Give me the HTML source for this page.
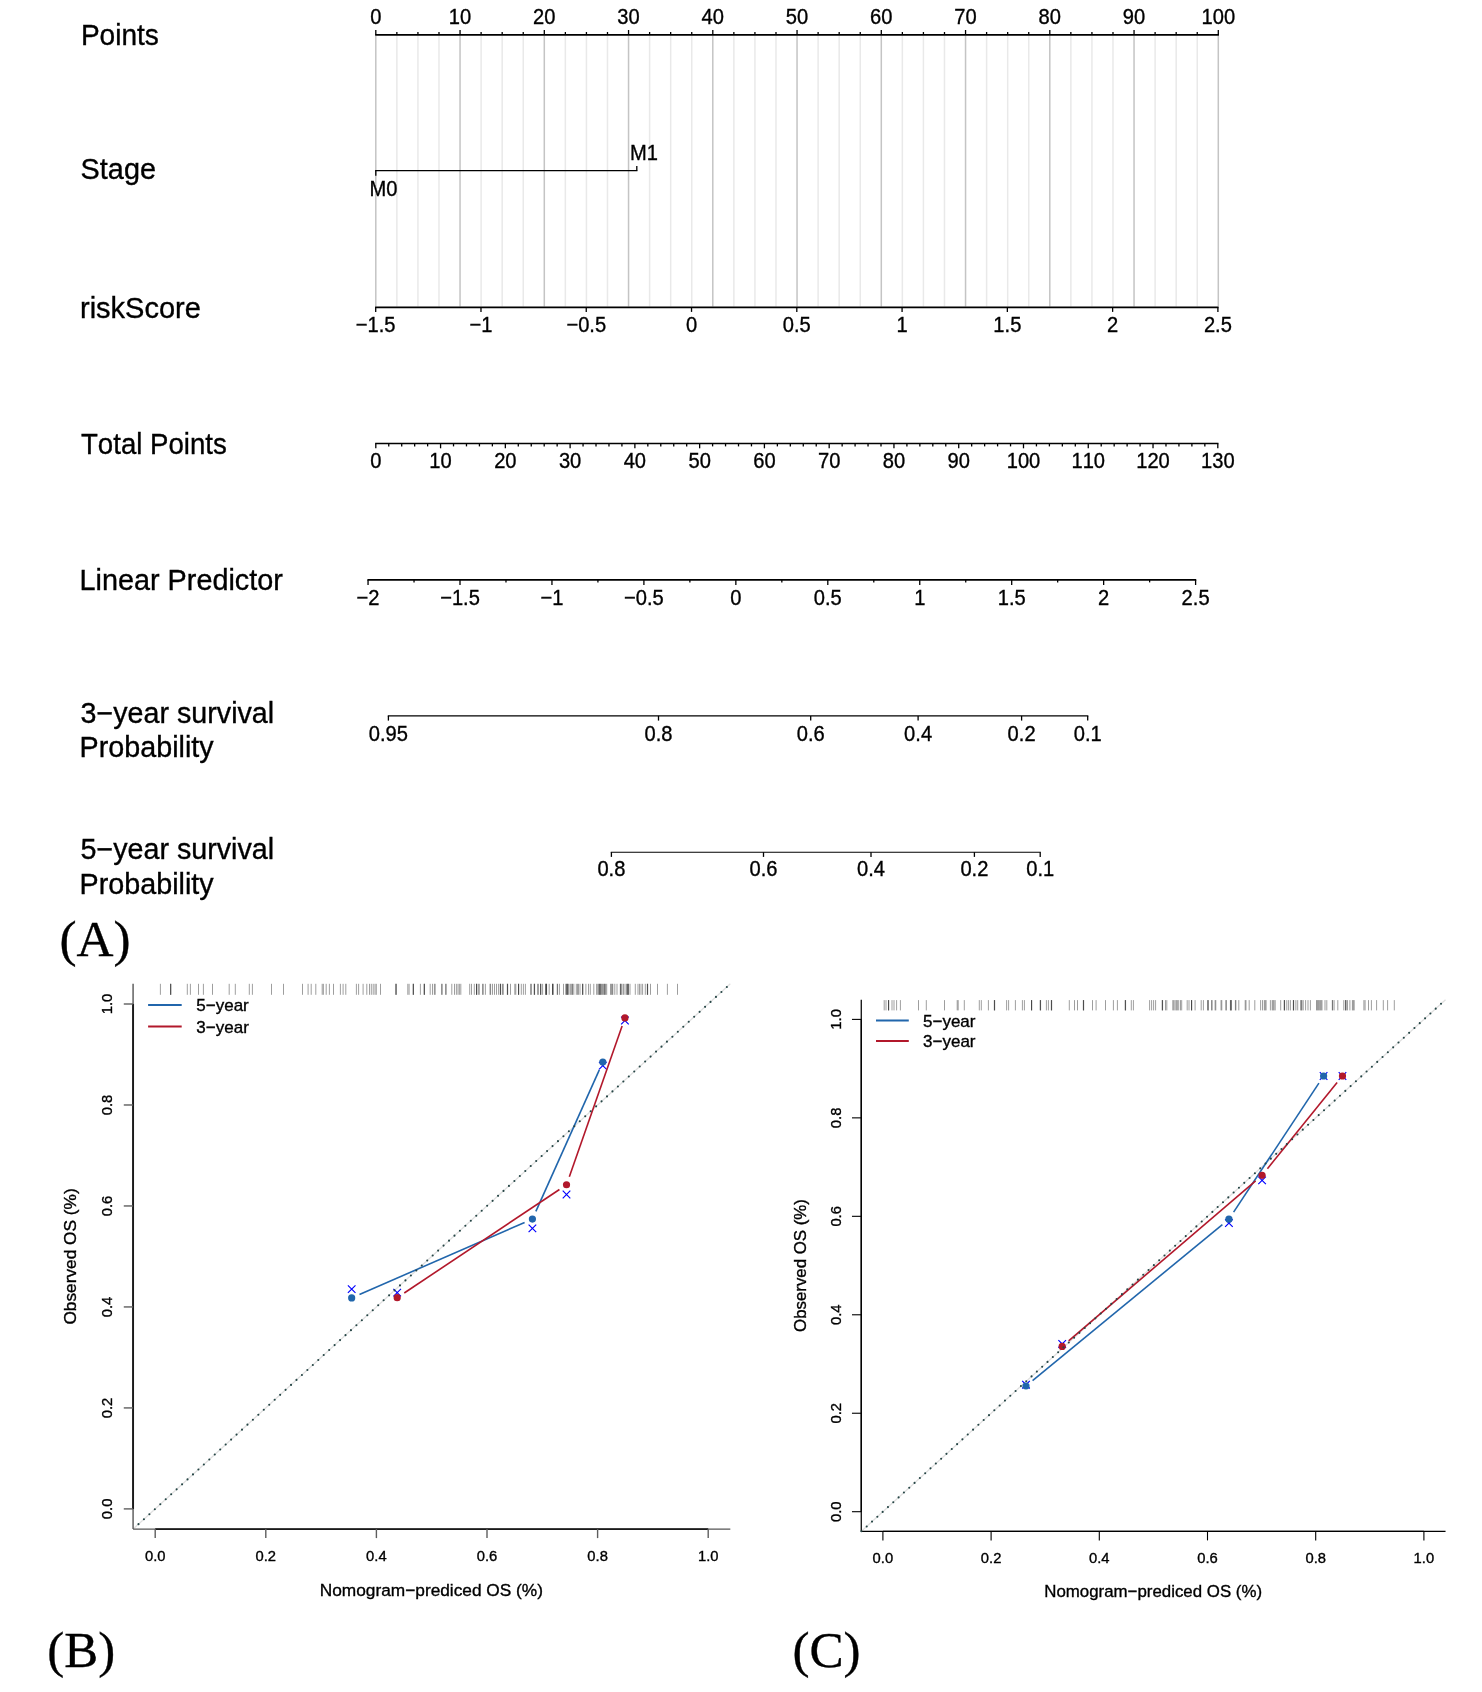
<!DOCTYPE html>
<html><head><meta charset="utf-8"><title>Nomogram and calibration curves</title>
<style>
html,body{margin:0;padding:0;background:#fff;}
svg{display:block;will-change:transform;}
text{font-kerning:none;white-space:pre;stroke:#000;stroke-width:0.35px;}
</style></head><body>
<svg width="1482" height="1692" viewBox="0 0 1482 1692">
<rect width="1482" height="1692" fill="#fff"/>
<line x1="375.8" y1="35.6" x2="375.8" y2="306.6" stroke="#c4c4c4" stroke-width="1.5"/>
<line x1="396.86" y1="35.6" x2="396.86" y2="306.6" stroke="#e9e9e9" stroke-width="1.5"/>
<line x1="417.93" y1="35.6" x2="417.93" y2="306.6" stroke="#e9e9e9" stroke-width="1.5"/>
<line x1="438.99" y1="35.6" x2="438.99" y2="306.6" stroke="#e9e9e9" stroke-width="1.5"/>
<line x1="460.05" y1="35.6" x2="460.05" y2="306.6" stroke="#c4c4c4" stroke-width="1.5"/>
<line x1="481.11" y1="35.6" x2="481.11" y2="306.6" stroke="#e9e9e9" stroke-width="1.5"/>
<line x1="502.18" y1="35.6" x2="502.18" y2="306.6" stroke="#e9e9e9" stroke-width="1.5"/>
<line x1="523.24" y1="35.6" x2="523.24" y2="306.6" stroke="#e9e9e9" stroke-width="1.5"/>
<line x1="544.3" y1="35.6" x2="544.3" y2="306.6" stroke="#c4c4c4" stroke-width="1.5"/>
<line x1="565.36" y1="35.6" x2="565.36" y2="306.6" stroke="#e9e9e9" stroke-width="1.5"/>
<line x1="586.43" y1="35.6" x2="586.43" y2="306.6" stroke="#e9e9e9" stroke-width="1.5"/>
<line x1="607.49" y1="35.6" x2="607.49" y2="306.6" stroke="#e9e9e9" stroke-width="1.5"/>
<line x1="628.55" y1="35.6" x2="628.55" y2="306.6" stroke="#c4c4c4" stroke-width="1.5"/>
<line x1="649.61" y1="35.6" x2="649.61" y2="306.6" stroke="#e9e9e9" stroke-width="1.5"/>
<line x1="670.67" y1="35.6" x2="670.67" y2="306.6" stroke="#e9e9e9" stroke-width="1.5"/>
<line x1="691.74" y1="35.6" x2="691.74" y2="306.6" stroke="#e9e9e9" stroke-width="1.5"/>
<line x1="712.8" y1="35.6" x2="712.8" y2="306.6" stroke="#c4c4c4" stroke-width="1.5"/>
<line x1="733.86" y1="35.6" x2="733.86" y2="306.6" stroke="#e9e9e9" stroke-width="1.5"/>
<line x1="754.93" y1="35.6" x2="754.93" y2="306.6" stroke="#e9e9e9" stroke-width="1.5"/>
<line x1="775.99" y1="35.6" x2="775.99" y2="306.6" stroke="#e9e9e9" stroke-width="1.5"/>
<line x1="797.05" y1="35.6" x2="797.05" y2="306.6" stroke="#c4c4c4" stroke-width="1.5"/>
<line x1="818.11" y1="35.6" x2="818.11" y2="306.6" stroke="#e9e9e9" stroke-width="1.5"/>
<line x1="839.18" y1="35.6" x2="839.18" y2="306.6" stroke="#e9e9e9" stroke-width="1.5"/>
<line x1="860.24" y1="35.6" x2="860.24" y2="306.6" stroke="#e9e9e9" stroke-width="1.5"/>
<line x1="881.3" y1="35.6" x2="881.3" y2="306.6" stroke="#c4c4c4" stroke-width="1.5"/>
<line x1="902.36" y1="35.6" x2="902.36" y2="306.6" stroke="#e9e9e9" stroke-width="1.5"/>
<line x1="923.42" y1="35.6" x2="923.42" y2="306.6" stroke="#e9e9e9" stroke-width="1.5"/>
<line x1="944.49" y1="35.6" x2="944.49" y2="306.6" stroke="#e9e9e9" stroke-width="1.5"/>
<line x1="965.55" y1="35.6" x2="965.55" y2="306.6" stroke="#c4c4c4" stroke-width="1.5"/>
<line x1="986.61" y1="35.6" x2="986.61" y2="306.6" stroke="#e9e9e9" stroke-width="1.5"/>
<line x1="1007.67" y1="35.6" x2="1007.67" y2="306.6" stroke="#e9e9e9" stroke-width="1.5"/>
<line x1="1028.74" y1="35.6" x2="1028.74" y2="306.6" stroke="#e9e9e9" stroke-width="1.5"/>
<line x1="1049.8" y1="35.6" x2="1049.8" y2="306.6" stroke="#c4c4c4" stroke-width="1.5"/>
<line x1="1070.86" y1="35.6" x2="1070.86" y2="306.6" stroke="#e9e9e9" stroke-width="1.5"/>
<line x1="1091.93" y1="35.6" x2="1091.93" y2="306.6" stroke="#e9e9e9" stroke-width="1.5"/>
<line x1="1112.99" y1="35.6" x2="1112.99" y2="306.6" stroke="#e9e9e9" stroke-width="1.5"/>
<line x1="1134.05" y1="35.6" x2="1134.05" y2="306.6" stroke="#c4c4c4" stroke-width="1.5"/>
<line x1="1155.11" y1="35.6" x2="1155.11" y2="306.6" stroke="#e9e9e9" stroke-width="1.5"/>
<line x1="1176.18" y1="35.6" x2="1176.18" y2="306.6" stroke="#e9e9e9" stroke-width="1.5"/>
<line x1="1197.24" y1="35.6" x2="1197.24" y2="306.6" stroke="#e9e9e9" stroke-width="1.5"/>
<line x1="1218.3" y1="35.6" x2="1218.3" y2="306.6" stroke="#c4c4c4" stroke-width="1.5"/>
<line x1="375.15" y1="34.8" x2="1218.95" y2="34.8" stroke="#000" stroke-width="1.7"/>
<line x1="375.8" y1="34.8" x2="375.8" y2="30" stroke="#000" stroke-width="1.3"/>
<line x1="396.86" y1="34.8" x2="396.86" y2="32" stroke="#000" stroke-width="1.3"/>
<line x1="417.93" y1="34.8" x2="417.93" y2="32" stroke="#000" stroke-width="1.3"/>
<line x1="438.99" y1="34.8" x2="438.99" y2="32" stroke="#000" stroke-width="1.3"/>
<line x1="460.05" y1="34.8" x2="460.05" y2="30" stroke="#000" stroke-width="1.3"/>
<line x1="481.11" y1="34.8" x2="481.11" y2="32" stroke="#000" stroke-width="1.3"/>
<line x1="502.18" y1="34.8" x2="502.18" y2="32" stroke="#000" stroke-width="1.3"/>
<line x1="523.24" y1="34.8" x2="523.24" y2="32" stroke="#000" stroke-width="1.3"/>
<line x1="544.3" y1="34.8" x2="544.3" y2="30" stroke="#000" stroke-width="1.3"/>
<line x1="565.36" y1="34.8" x2="565.36" y2="32" stroke="#000" stroke-width="1.3"/>
<line x1="586.43" y1="34.8" x2="586.43" y2="32" stroke="#000" stroke-width="1.3"/>
<line x1="607.49" y1="34.8" x2="607.49" y2="32" stroke="#000" stroke-width="1.3"/>
<line x1="628.55" y1="34.8" x2="628.55" y2="30" stroke="#000" stroke-width="1.3"/>
<line x1="649.61" y1="34.8" x2="649.61" y2="32" stroke="#000" stroke-width="1.3"/>
<line x1="670.67" y1="34.8" x2="670.67" y2="32" stroke="#000" stroke-width="1.3"/>
<line x1="691.74" y1="34.8" x2="691.74" y2="32" stroke="#000" stroke-width="1.3"/>
<line x1="712.8" y1="34.8" x2="712.8" y2="30" stroke="#000" stroke-width="1.3"/>
<line x1="733.86" y1="34.8" x2="733.86" y2="32" stroke="#000" stroke-width="1.3"/>
<line x1="754.93" y1="34.8" x2="754.93" y2="32" stroke="#000" stroke-width="1.3"/>
<line x1="775.99" y1="34.8" x2="775.99" y2="32" stroke="#000" stroke-width="1.3"/>
<line x1="797.05" y1="34.8" x2="797.05" y2="30" stroke="#000" stroke-width="1.3"/>
<line x1="818.11" y1="34.8" x2="818.11" y2="32" stroke="#000" stroke-width="1.3"/>
<line x1="839.18" y1="34.8" x2="839.18" y2="32" stroke="#000" stroke-width="1.3"/>
<line x1="860.24" y1="34.8" x2="860.24" y2="32" stroke="#000" stroke-width="1.3"/>
<line x1="881.3" y1="34.8" x2="881.3" y2="30" stroke="#000" stroke-width="1.3"/>
<line x1="902.36" y1="34.8" x2="902.36" y2="32" stroke="#000" stroke-width="1.3"/>
<line x1="923.42" y1="34.8" x2="923.42" y2="32" stroke="#000" stroke-width="1.3"/>
<line x1="944.49" y1="34.8" x2="944.49" y2="32" stroke="#000" stroke-width="1.3"/>
<line x1="965.55" y1="34.8" x2="965.55" y2="30" stroke="#000" stroke-width="1.3"/>
<line x1="986.61" y1="34.8" x2="986.61" y2="32" stroke="#000" stroke-width="1.3"/>
<line x1="1007.67" y1="34.8" x2="1007.67" y2="32" stroke="#000" stroke-width="1.3"/>
<line x1="1028.74" y1="34.8" x2="1028.74" y2="32" stroke="#000" stroke-width="1.3"/>
<line x1="1049.8" y1="34.8" x2="1049.8" y2="30" stroke="#000" stroke-width="1.3"/>
<line x1="1070.86" y1="34.8" x2="1070.86" y2="32" stroke="#000" stroke-width="1.3"/>
<line x1="1091.93" y1="34.8" x2="1091.93" y2="32" stroke="#000" stroke-width="1.3"/>
<line x1="1112.99" y1="34.8" x2="1112.99" y2="32" stroke="#000" stroke-width="1.3"/>
<line x1="1134.05" y1="34.8" x2="1134.05" y2="30" stroke="#000" stroke-width="1.3"/>
<line x1="1155.11" y1="34.8" x2="1155.11" y2="32" stroke="#000" stroke-width="1.3"/>
<line x1="1176.18" y1="34.8" x2="1176.18" y2="32" stroke="#000" stroke-width="1.3"/>
<line x1="1197.24" y1="34.8" x2="1197.24" y2="32" stroke="#000" stroke-width="1.3"/>
<line x1="1218.3" y1="34.8" x2="1218.3" y2="30" stroke="#000" stroke-width="1.3"/>
<text transform="translate(370.2,23.7) scale(0.9450,1)" font-size="21.3" font-family='"Liberation Sans", sans-serif'>0</text>
<text transform="translate(448.86,23.7) scale(0.9450,1)" font-size="21.3" font-family='"Liberation Sans", sans-serif'>10</text>
<text transform="translate(533.11,23.7) scale(0.9450,1)" font-size="21.3" font-family='"Liberation Sans", sans-serif'>20</text>
<text transform="translate(617.36,23.7) scale(0.9450,1)" font-size="21.3" font-family='"Liberation Sans", sans-serif'>30</text>
<text transform="translate(701.61,23.7) scale(0.9450,1)" font-size="21.3" font-family='"Liberation Sans", sans-serif'>40</text>
<text transform="translate(785.86,23.7) scale(0.9450,1)" font-size="21.3" font-family='"Liberation Sans", sans-serif'>50</text>
<text transform="translate(870.11,23.7) scale(0.9450,1)" font-size="21.3" font-family='"Liberation Sans", sans-serif'>60</text>
<text transform="translate(954.36,23.7) scale(0.9450,1)" font-size="21.3" font-family='"Liberation Sans", sans-serif'>70</text>
<text transform="translate(1038.61,23.7) scale(0.9450,1)" font-size="21.3" font-family='"Liberation Sans", sans-serif'>80</text>
<text transform="translate(1122.86,23.7) scale(0.9450,1)" font-size="21.3" font-family='"Liberation Sans", sans-serif'>90</text>
<text transform="translate(1201.51,23.7) scale(0.9450,1)" font-size="21.3" font-family='"Liberation Sans", sans-serif'>100</text>
<line x1="375.15" y1="170.6" x2="637.45" y2="170.6" stroke="#000" stroke-width="1.4"/>
<line x1="375.8" y1="170.6" x2="375.8" y2="175.8" stroke="#000" stroke-width="1.3"/>
<line x1="636.8" y1="170.6" x2="636.8" y2="166" stroke="#000" stroke-width="1.3"/>
<text transform="translate(369.55,195.7) scale(0.9450,1)" font-size="21.3" font-family='"Liberation Sans", sans-serif' fill="#000">M0</text>
<text transform="translate(629.95,160.2) scale(0.9450,1)" font-size="21.3" font-family='"Liberation Sans", sans-serif' fill="#000">M1</text>
<line x1="375.05" y1="307.3" x2="1218.55" y2="307.3" stroke="#000" stroke-width="1.7"/>
<line x1="375.7" y1="307.3" x2="375.7" y2="311.9" stroke="#000" stroke-width="1.3"/>
<text transform="translate(355.83,331.6) scale(0.9450,1)" font-size="21.3" font-family='"Liberation Sans", sans-serif'>−1.5</text>
<line x1="480.98" y1="307.3" x2="480.98" y2="311.9" stroke="#000" stroke-width="1.3"/>
<text transform="translate(469.5,331.6) scale(0.9450,1)" font-size="21.3" font-family='"Liberation Sans", sans-serif'>−1</text>
<line x1="586.25" y1="307.3" x2="586.25" y2="311.9" stroke="#000" stroke-width="1.3"/>
<text transform="translate(566.38,331.6) scale(0.9450,1)" font-size="21.3" font-family='"Liberation Sans", sans-serif'>−0.5</text>
<line x1="691.53" y1="307.3" x2="691.53" y2="311.9" stroke="#000" stroke-width="1.3"/>
<text transform="translate(685.93,331.6) scale(0.9450,1)" font-size="21.3" font-family='"Liberation Sans", sans-serif'>0</text>
<line x1="796.8" y1="307.3" x2="796.8" y2="311.9" stroke="#000" stroke-width="1.3"/>
<text transform="translate(782.81,331.6) scale(0.9450,1)" font-size="21.3" font-family='"Liberation Sans", sans-serif'>0.5</text>
<line x1="902.08" y1="307.3" x2="902.08" y2="311.9" stroke="#000" stroke-width="1.3"/>
<text transform="translate(896.48,331.6) scale(0.9450,1)" font-size="21.3" font-family='"Liberation Sans", sans-serif'>1</text>
<line x1="1007.35" y1="307.3" x2="1007.35" y2="311.9" stroke="#000" stroke-width="1.3"/>
<text transform="translate(993.36,331.6) scale(0.9450,1)" font-size="21.3" font-family='"Liberation Sans", sans-serif'>1.5</text>
<line x1="1112.62" y1="307.3" x2="1112.62" y2="311.9" stroke="#000" stroke-width="1.3"/>
<text transform="translate(1107.03,331.6) scale(0.9450,1)" font-size="21.3" font-family='"Liberation Sans", sans-serif'>2</text>
<line x1="1217.9" y1="307.3" x2="1217.9" y2="311.9" stroke="#000" stroke-width="1.3"/>
<text transform="translate(1203.91,331.6) scale(0.9450,1)" font-size="21.3" font-family='"Liberation Sans", sans-serif'>2.5</text>
<line x1="375.15" y1="443.5" x2="1218.45" y2="443.5" stroke="#000" stroke-width="1.7"/>
<line x1="375.8" y1="443.5" x2="375.8" y2="448.3" stroke="#000" stroke-width="1.3"/>
<line x1="388.75" y1="443.5" x2="388.75" y2="446.4" stroke="#000" stroke-width="1.3"/>
<line x1="401.71" y1="443.5" x2="401.71" y2="446.4" stroke="#000" stroke-width="1.3"/>
<line x1="414.66" y1="443.5" x2="414.66" y2="446.4" stroke="#000" stroke-width="1.3"/>
<line x1="427.62" y1="443.5" x2="427.62" y2="446.4" stroke="#000" stroke-width="1.3"/>
<line x1="440.57" y1="443.5" x2="440.57" y2="448.3" stroke="#000" stroke-width="1.3"/>
<line x1="453.52" y1="443.5" x2="453.52" y2="446.4" stroke="#000" stroke-width="1.3"/>
<line x1="466.48" y1="443.5" x2="466.48" y2="446.4" stroke="#000" stroke-width="1.3"/>
<line x1="479.43" y1="443.5" x2="479.43" y2="446.4" stroke="#000" stroke-width="1.3"/>
<line x1="492.38" y1="443.5" x2="492.38" y2="446.4" stroke="#000" stroke-width="1.3"/>
<line x1="505.34" y1="443.5" x2="505.34" y2="448.3" stroke="#000" stroke-width="1.3"/>
<line x1="518.29" y1="443.5" x2="518.29" y2="446.4" stroke="#000" stroke-width="1.3"/>
<line x1="531.25" y1="443.5" x2="531.25" y2="446.4" stroke="#000" stroke-width="1.3"/>
<line x1="544.2" y1="443.5" x2="544.2" y2="446.4" stroke="#000" stroke-width="1.3"/>
<line x1="557.15" y1="443.5" x2="557.15" y2="446.4" stroke="#000" stroke-width="1.3"/>
<line x1="570.11" y1="443.5" x2="570.11" y2="448.3" stroke="#000" stroke-width="1.3"/>
<line x1="583.06" y1="443.5" x2="583.06" y2="446.4" stroke="#000" stroke-width="1.3"/>
<line x1="596.01" y1="443.5" x2="596.01" y2="446.4" stroke="#000" stroke-width="1.3"/>
<line x1="608.97" y1="443.5" x2="608.97" y2="446.4" stroke="#000" stroke-width="1.3"/>
<line x1="621.92" y1="443.5" x2="621.92" y2="446.4" stroke="#000" stroke-width="1.3"/>
<line x1="634.88" y1="443.5" x2="634.88" y2="448.3" stroke="#000" stroke-width="1.3"/>
<line x1="647.83" y1="443.5" x2="647.83" y2="446.4" stroke="#000" stroke-width="1.3"/>
<line x1="660.78" y1="443.5" x2="660.78" y2="446.4" stroke="#000" stroke-width="1.3"/>
<line x1="673.74" y1="443.5" x2="673.74" y2="446.4" stroke="#000" stroke-width="1.3"/>
<line x1="686.69" y1="443.5" x2="686.69" y2="446.4" stroke="#000" stroke-width="1.3"/>
<line x1="699.64" y1="443.5" x2="699.64" y2="448.3" stroke="#000" stroke-width="1.3"/>
<line x1="712.6" y1="443.5" x2="712.6" y2="446.4" stroke="#000" stroke-width="1.3"/>
<line x1="725.55" y1="443.5" x2="725.55" y2="446.4" stroke="#000" stroke-width="1.3"/>
<line x1="738.51" y1="443.5" x2="738.51" y2="446.4" stroke="#000" stroke-width="1.3"/>
<line x1="751.46" y1="443.5" x2="751.46" y2="446.4" stroke="#000" stroke-width="1.3"/>
<line x1="764.41" y1="443.5" x2="764.41" y2="448.3" stroke="#000" stroke-width="1.3"/>
<line x1="777.37" y1="443.5" x2="777.37" y2="446.4" stroke="#000" stroke-width="1.3"/>
<line x1="790.32" y1="443.5" x2="790.32" y2="446.4" stroke="#000" stroke-width="1.3"/>
<line x1="803.28" y1="443.5" x2="803.28" y2="446.4" stroke="#000" stroke-width="1.3"/>
<line x1="816.23" y1="443.5" x2="816.23" y2="446.4" stroke="#000" stroke-width="1.3"/>
<line x1="829.18" y1="443.5" x2="829.18" y2="448.3" stroke="#000" stroke-width="1.3"/>
<line x1="842.14" y1="443.5" x2="842.14" y2="446.4" stroke="#000" stroke-width="1.3"/>
<line x1="855.09" y1="443.5" x2="855.09" y2="446.4" stroke="#000" stroke-width="1.3"/>
<line x1="868.04" y1="443.5" x2="868.04" y2="446.4" stroke="#000" stroke-width="1.3"/>
<line x1="881" y1="443.5" x2="881" y2="446.4" stroke="#000" stroke-width="1.3"/>
<line x1="893.95" y1="443.5" x2="893.95" y2="448.3" stroke="#000" stroke-width="1.3"/>
<line x1="906.91" y1="443.5" x2="906.91" y2="446.4" stroke="#000" stroke-width="1.3"/>
<line x1="919.86" y1="443.5" x2="919.86" y2="446.4" stroke="#000" stroke-width="1.3"/>
<line x1="932.81" y1="443.5" x2="932.81" y2="446.4" stroke="#000" stroke-width="1.3"/>
<line x1="945.77" y1="443.5" x2="945.77" y2="446.4" stroke="#000" stroke-width="1.3"/>
<line x1="958.72" y1="443.5" x2="958.72" y2="448.3" stroke="#000" stroke-width="1.3"/>
<line x1="971.67" y1="443.5" x2="971.67" y2="446.4" stroke="#000" stroke-width="1.3"/>
<line x1="984.63" y1="443.5" x2="984.63" y2="446.4" stroke="#000" stroke-width="1.3"/>
<line x1="997.58" y1="443.5" x2="997.58" y2="446.4" stroke="#000" stroke-width="1.3"/>
<line x1="1010.54" y1="443.5" x2="1010.54" y2="446.4" stroke="#000" stroke-width="1.3"/>
<line x1="1023.49" y1="443.5" x2="1023.49" y2="448.3" stroke="#000" stroke-width="1.3"/>
<line x1="1036.44" y1="443.5" x2="1036.44" y2="446.4" stroke="#000" stroke-width="1.3"/>
<line x1="1049.4" y1="443.5" x2="1049.4" y2="446.4" stroke="#000" stroke-width="1.3"/>
<line x1="1062.35" y1="443.5" x2="1062.35" y2="446.4" stroke="#000" stroke-width="1.3"/>
<line x1="1075.31" y1="443.5" x2="1075.31" y2="446.4" stroke="#000" stroke-width="1.3"/>
<line x1="1088.26" y1="443.5" x2="1088.26" y2="448.3" stroke="#000" stroke-width="1.3"/>
<line x1="1101.21" y1="443.5" x2="1101.21" y2="446.4" stroke="#000" stroke-width="1.3"/>
<line x1="1114.17" y1="443.5" x2="1114.17" y2="446.4" stroke="#000" stroke-width="1.3"/>
<line x1="1127.12" y1="443.5" x2="1127.12" y2="446.4" stroke="#000" stroke-width="1.3"/>
<line x1="1140.07" y1="443.5" x2="1140.07" y2="446.4" stroke="#000" stroke-width="1.3"/>
<line x1="1153.03" y1="443.5" x2="1153.03" y2="448.3" stroke="#000" stroke-width="1.3"/>
<line x1="1165.98" y1="443.5" x2="1165.98" y2="446.4" stroke="#000" stroke-width="1.3"/>
<line x1="1178.94" y1="443.5" x2="1178.94" y2="446.4" stroke="#000" stroke-width="1.3"/>
<line x1="1191.89" y1="443.5" x2="1191.89" y2="446.4" stroke="#000" stroke-width="1.3"/>
<line x1="1204.84" y1="443.5" x2="1204.84" y2="446.4" stroke="#000" stroke-width="1.3"/>
<line x1="1217.8" y1="443.5" x2="1217.8" y2="448.3" stroke="#000" stroke-width="1.3"/>
<text transform="translate(370.2,467.7) scale(0.9450,1)" font-size="21.3" font-family='"Liberation Sans", sans-serif'>0</text>
<text transform="translate(429.37,467.7) scale(0.9450,1)" font-size="21.3" font-family='"Liberation Sans", sans-serif'>10</text>
<text transform="translate(494.14,467.7) scale(0.9450,1)" font-size="21.3" font-family='"Liberation Sans", sans-serif'>20</text>
<text transform="translate(558.91,467.7) scale(0.9450,1)" font-size="21.3" font-family='"Liberation Sans", sans-serif'>30</text>
<text transform="translate(623.68,467.7) scale(0.9450,1)" font-size="21.3" font-family='"Liberation Sans", sans-serif'>40</text>
<text transform="translate(688.45,467.7) scale(0.9450,1)" font-size="21.3" font-family='"Liberation Sans", sans-serif'>50</text>
<text transform="translate(753.22,467.7) scale(0.9450,1)" font-size="21.3" font-family='"Liberation Sans", sans-serif'>60</text>
<text transform="translate(817.99,467.7) scale(0.9450,1)" font-size="21.3" font-family='"Liberation Sans", sans-serif'>70</text>
<text transform="translate(882.76,467.7) scale(0.9450,1)" font-size="21.3" font-family='"Liberation Sans", sans-serif'>80</text>
<text transform="translate(947.53,467.7) scale(0.9450,1)" font-size="21.3" font-family='"Liberation Sans", sans-serif'>90</text>
<text transform="translate(1006.7,467.7) scale(0.9450,1)" font-size="21.3" font-family='"Liberation Sans", sans-serif'>100</text>
<text transform="translate(1071.47,467.7) scale(0.9450,1)" font-size="21.3" font-family='"Liberation Sans", sans-serif'>110</text>
<text transform="translate(1136.24,467.7) scale(0.9450,1)" font-size="21.3" font-family='"Liberation Sans", sans-serif'>120</text>
<text transform="translate(1201.01,467.7) scale(0.9450,1)" font-size="21.3" font-family='"Liberation Sans", sans-serif'>130</text>
<line x1="367.4" y1="579.9" x2="1196.25" y2="579.9" stroke="#000" stroke-width="1.7"/>
<line x1="368.05" y1="579.9" x2="368.05" y2="585" stroke="#000" stroke-width="1.3"/>
<line x1="414.03" y1="579.9" x2="414.03" y2="582.4" stroke="#000" stroke-width="1.3"/>
<line x1="460" y1="579.9" x2="460" y2="585" stroke="#000" stroke-width="1.3"/>
<line x1="505.98" y1="579.9" x2="505.98" y2="582.4" stroke="#000" stroke-width="1.3"/>
<line x1="551.95" y1="579.9" x2="551.95" y2="585" stroke="#000" stroke-width="1.3"/>
<line x1="597.92" y1="579.9" x2="597.92" y2="582.4" stroke="#000" stroke-width="1.3"/>
<line x1="643.9" y1="579.9" x2="643.9" y2="585" stroke="#000" stroke-width="1.3"/>
<line x1="689.88" y1="579.9" x2="689.88" y2="582.4" stroke="#000" stroke-width="1.3"/>
<line x1="735.85" y1="579.9" x2="735.85" y2="585" stroke="#000" stroke-width="1.3"/>
<line x1="781.83" y1="579.9" x2="781.83" y2="582.4" stroke="#000" stroke-width="1.3"/>
<line x1="827.8" y1="579.9" x2="827.8" y2="585" stroke="#000" stroke-width="1.3"/>
<line x1="873.78" y1="579.9" x2="873.78" y2="582.4" stroke="#000" stroke-width="1.3"/>
<line x1="919.75" y1="579.9" x2="919.75" y2="585" stroke="#000" stroke-width="1.3"/>
<line x1="965.73" y1="579.9" x2="965.73" y2="582.4" stroke="#000" stroke-width="1.3"/>
<line x1="1011.7" y1="579.9" x2="1011.7" y2="585" stroke="#000" stroke-width="1.3"/>
<line x1="1057.67" y1="579.9" x2="1057.67" y2="582.4" stroke="#000" stroke-width="1.3"/>
<line x1="1103.65" y1="579.9" x2="1103.65" y2="585" stroke="#000" stroke-width="1.3"/>
<line x1="1149.62" y1="579.9" x2="1149.62" y2="582.4" stroke="#000" stroke-width="1.3"/>
<line x1="1195.6" y1="579.9" x2="1195.6" y2="585" stroke="#000" stroke-width="1.3"/>
<text transform="translate(356.58,604.5) scale(0.9450,1)" font-size="21.3" font-family='"Liberation Sans", sans-serif'>−2</text>
<text transform="translate(440.13,604.5) scale(0.9450,1)" font-size="21.3" font-family='"Liberation Sans", sans-serif'>−1.5</text>
<text transform="translate(540.48,604.5) scale(0.9450,1)" font-size="21.3" font-family='"Liberation Sans", sans-serif'>−1</text>
<text transform="translate(624.03,604.5) scale(0.9450,1)" font-size="21.3" font-family='"Liberation Sans", sans-serif'>−0.5</text>
<text transform="translate(730.25,604.5) scale(0.9450,1)" font-size="21.3" font-family='"Liberation Sans", sans-serif'>0</text>
<text transform="translate(813.81,604.5) scale(0.9450,1)" font-size="21.3" font-family='"Liberation Sans", sans-serif'>0.5</text>
<text transform="translate(914.15,604.5) scale(0.9450,1)" font-size="21.3" font-family='"Liberation Sans", sans-serif'>1</text>
<text transform="translate(997.71,604.5) scale(0.9450,1)" font-size="21.3" font-family='"Liberation Sans", sans-serif'>1.5</text>
<text transform="translate(1098.05,604.5) scale(0.9450,1)" font-size="21.3" font-family='"Liberation Sans", sans-serif'>2</text>
<text transform="translate(1181.61,604.5) scale(0.9450,1)" font-size="21.3" font-family='"Liberation Sans", sans-serif'>2.5</text>
<line x1="387.75" y1="715.9" x2="1088.35" y2="715.9" stroke="#000" stroke-width="1.1"/>
<line x1="388.4" y1="715.9" x2="388.4" y2="720.6" stroke="#000" stroke-width="1.3"/>
<text transform="translate(368.81,740.7) scale(0.9450,1)" font-size="21.3" font-family='"Liberation Sans", sans-serif'>0.95</text>
<line x1="658.5" y1="715.9" x2="658.5" y2="720.6" stroke="#000" stroke-width="1.3"/>
<text transform="translate(644.51,740.7) scale(0.9450,1)" font-size="21.3" font-family='"Liberation Sans", sans-serif'>0.8</text>
<line x1="810.7" y1="715.9" x2="810.7" y2="720.6" stroke="#000" stroke-width="1.3"/>
<text transform="translate(796.71,740.7) scale(0.9450,1)" font-size="21.3" font-family='"Liberation Sans", sans-serif'>0.6</text>
<line x1="918.1" y1="715.9" x2="918.1" y2="720.6" stroke="#000" stroke-width="1.3"/>
<text transform="translate(904.11,740.7) scale(0.9450,1)" font-size="21.3" font-family='"Liberation Sans", sans-serif'>0.4</text>
<line x1="1021.6" y1="715.9" x2="1021.6" y2="720.6" stroke="#000" stroke-width="1.3"/>
<text transform="translate(1007.61,740.7) scale(0.9450,1)" font-size="21.3" font-family='"Liberation Sans", sans-serif'>0.2</text>
<line x1="1087.7" y1="715.9" x2="1087.7" y2="720.6" stroke="#000" stroke-width="1.3"/>
<text transform="translate(1073.71,740.7) scale(0.9450,1)" font-size="21.3" font-family='"Liberation Sans", sans-serif'>0.1</text>
<line x1="610.75" y1="852.2" x2="1040.85" y2="852.2" stroke="#000" stroke-width="1.1"/>
<line x1="611.4" y1="852.2" x2="611.4" y2="856.9" stroke="#000" stroke-width="1.3"/>
<text transform="translate(597.41,876.1) scale(0.9450,1)" font-size="21.3" font-family='"Liberation Sans", sans-serif'>0.8</text>
<line x1="763.5" y1="852.2" x2="763.5" y2="856.9" stroke="#000" stroke-width="1.3"/>
<text transform="translate(749.51,876.1) scale(0.9450,1)" font-size="21.3" font-family='"Liberation Sans", sans-serif'>0.6</text>
<line x1="871" y1="852.2" x2="871" y2="856.9" stroke="#000" stroke-width="1.3"/>
<text transform="translate(857.01,876.1) scale(0.9450,1)" font-size="21.3" font-family='"Liberation Sans", sans-serif'>0.4</text>
<line x1="974.4" y1="852.2" x2="974.4" y2="856.9" stroke="#000" stroke-width="1.3"/>
<text transform="translate(960.41,876.1) scale(0.9450,1)" font-size="21.3" font-family='"Liberation Sans", sans-serif'>0.2</text>
<line x1="1040.2" y1="852.2" x2="1040.2" y2="856.9" stroke="#000" stroke-width="1.3"/>
<text transform="translate(1026.21,876.1) scale(0.9450,1)" font-size="21.3" font-family='"Liberation Sans", sans-serif'>0.1</text>
<text transform="translate(80.9,44.9) scale(0.9781,1)" font-size="28.7" font-family='"Liberation Sans", sans-serif' fill="#000">Points</text>
<text transform="translate(80.59,178.9) scale(1.0052,1)" font-size="28.7" font-family='"Liberation Sans", sans-serif' fill="#000">Stage</text>
<text transform="translate(79.97,318.1) scale(1.0109,1)" font-size="28.7" font-family='"Liberation Sans", sans-serif' fill="#000">riskScore</text>
<text transform="translate(80.98,453.9) scale(0.9629,1)" font-size="28.7" font-family='"Liberation Sans", sans-serif' fill="#000">Total Points</text>
<text transform="translate(79.54,589.9) scale(1.0039,1)" font-size="28.7" font-family='"Liberation Sans", sans-serif' fill="#000">Linear Predictor</text>
<text transform="translate(80.61,722.9) scale(0.9990,1)" font-size="28.7" font-family='"Liberation Sans", sans-serif' fill="#000">3−year survival</text>
<text transform="translate(79.54,757) scale(1.0008,1)" font-size="28.7" font-family='"Liberation Sans", sans-serif' fill="#000">Probability</text>
<text transform="translate(80.55,858.7) scale(0.9993,1)" font-size="28.7" font-family='"Liberation Sans", sans-serif' fill="#000">5−year survival</text>
<text transform="translate(79.54,893.8) scale(1.0008,1)" font-size="28.7" font-family='"Liberation Sans", sans-serif' fill="#000">Probability</text>
<text transform="translate(59.55,956.2) scale(1.0244,1)" font-size="50" font-family='"Liberation Serif", serif' fill="#000">(A)</text>
<text transform="translate(47.36,1666.8) scale(1.0184,1)" font-size="50" font-family='"Liberation Serif", serif' fill="#000">(B)</text>
<text transform="translate(792.45,1666.8) scale(1.0232,1)" font-size="50" font-family='"Liberation Serif", serif' fill="#000">(C)</text>
<line x1="170.6" y1="983.8" x2="170.6" y2="994.8" stroke="#000" stroke-width="1" stroke-opacity="0.38"/>
<line x1="395.9" y1="983.8" x2="395.9" y2="994.8" stroke="#000" stroke-width="1" stroke-opacity="0.38"/>
<line x1="413.3" y1="983.8" x2="413.3" y2="994.8" stroke="#000" stroke-width="1" stroke-opacity="0.38"/>
<line x1="424.2" y1="983.8" x2="424.2" y2="994.8" stroke="#000" stroke-width="1" stroke-opacity="0.38"/>
<line x1="476.5" y1="983.8" x2="476.5" y2="994.8" stroke="#000" stroke-width="1" stroke-opacity="0.38"/>
<line x1="500.4" y1="983.8" x2="500.4" y2="994.8" stroke="#000" stroke-width="1" stroke-opacity="0.38"/>
<line x1="507.4" y1="983.8" x2="507.4" y2="994.8" stroke="#000" stroke-width="1" stroke-opacity="0.38"/>
<line x1="518.5" y1="983.8" x2="518.5" y2="994.8" stroke="#000" stroke-width="1" stroke-opacity="0.38"/>
<line x1="534.3" y1="983.8" x2="534.3" y2="994.8" stroke="#000" stroke-width="1" stroke-opacity="0.38"/>
<line x1="540.6" y1="983.8" x2="540.6" y2="994.8" stroke="#000" stroke-width="1" stroke-opacity="0.38"/>
<line x1="546.1" y1="983.8" x2="546.1" y2="994.8" stroke="#000" stroke-width="1" stroke-opacity="0.38"/>
<line x1="546.3" y1="983.8" x2="546.3" y2="994.8" stroke="#000" stroke-width="1" stroke-opacity="0.38"/>
<line x1="552.7" y1="983.8" x2="552.7" y2="994.8" stroke="#000" stroke-width="1" stroke-opacity="0.38"/>
<line x1="566.8" y1="983.8" x2="566.8" y2="994.8" stroke="#000" stroke-width="1" stroke-opacity="0.38"/>
<line x1="567.6" y1="983.8" x2="567.6" y2="994.8" stroke="#000" stroke-width="1" stroke-opacity="0.38"/>
<line x1="572" y1="983.8" x2="572" y2="994.8" stroke="#000" stroke-width="1" stroke-opacity="0.38"/>
<line x1="582.6" y1="983.8" x2="582.6" y2="994.8" stroke="#000" stroke-width="1" stroke-opacity="0.38"/>
<line x1="599.6" y1="983.8" x2="599.6" y2="994.8" stroke="#000" stroke-width="1" stroke-opacity="0.38"/>
<line x1="600.6" y1="983.8" x2="600.6" y2="994.8" stroke="#000" stroke-width="1" stroke-opacity="0.38"/>
<line x1="604.7" y1="983.8" x2="604.7" y2="994.8" stroke="#000" stroke-width="1" stroke-opacity="0.38"/>
<line x1="612.2" y1="983.8" x2="612.2" y2="994.8" stroke="#000" stroke-width="1" stroke-opacity="0.38"/>
<line x1="620.9" y1="983.8" x2="620.9" y2="994.8" stroke="#000" stroke-width="1" stroke-opacity="0.38"/>
<line x1="627.4" y1="983.8" x2="627.4" y2="994.8" stroke="#000" stroke-width="1" stroke-opacity="0.38"/>
<line x1="628.4" y1="983.8" x2="628.4" y2="994.8" stroke="#000" stroke-width="1" stroke-opacity="0.38"/>
<line x1="647.4" y1="983.8" x2="647.4" y2="994.8" stroke="#000" stroke-width="1" stroke-opacity="0.38"/>
<line x1="160.4" y1="983.8" x2="160.4" y2="994.8" stroke="#000" stroke-width="1" stroke-opacity="0.38"/>
<line x1="170.6" y1="983.8" x2="170.6" y2="994.8" stroke="#000" stroke-width="1" stroke-opacity="0.38"/>
<line x1="170.9" y1="983.8" x2="170.9" y2="994.8" stroke="#000" stroke-width="1" stroke-opacity="0.38"/>
<line x1="187.3" y1="983.8" x2="187.3" y2="994.8" stroke="#000" stroke-width="1" stroke-opacity="0.38"/>
<line x1="190.4" y1="983.8" x2="190.4" y2="994.8" stroke="#000" stroke-width="1" stroke-opacity="0.38"/>
<line x1="198.5" y1="983.8" x2="198.5" y2="994.8" stroke="#000" stroke-width="1" stroke-opacity="0.38"/>
<line x1="203.4" y1="983.8" x2="203.4" y2="994.8" stroke="#000" stroke-width="1" stroke-opacity="0.38"/>
<line x1="212.5" y1="983.8" x2="212.5" y2="994.8" stroke="#000" stroke-width="1" stroke-opacity="0.38"/>
<line x1="229.2" y1="983.8" x2="229.2" y2="994.8" stroke="#000" stroke-width="1" stroke-opacity="0.38"/>
<line x1="235.3" y1="983.8" x2="235.3" y2="994.8" stroke="#000" stroke-width="1" stroke-opacity="0.38"/>
<line x1="249.3" y1="983.8" x2="249.3" y2="994.8" stroke="#000" stroke-width="1" stroke-opacity="0.38"/>
<line x1="252.4" y1="983.8" x2="252.4" y2="994.8" stroke="#000" stroke-width="1" stroke-opacity="0.38"/>
<line x1="271.5" y1="983.8" x2="271.5" y2="994.8" stroke="#000" stroke-width="1" stroke-opacity="0.38"/>
<line x1="283.5" y1="983.8" x2="283.5" y2="994.8" stroke="#000" stroke-width="1" stroke-opacity="0.38"/>
<line x1="302.5" y1="983.8" x2="302.5" y2="994.8" stroke="#000" stroke-width="1" stroke-opacity="0.38"/>
<line x1="308.1" y1="983.8" x2="308.1" y2="994.8" stroke="#000" stroke-width="1" stroke-opacity="0.38"/>
<line x1="311.2" y1="983.8" x2="311.2" y2="994.8" stroke="#000" stroke-width="1" stroke-opacity="0.38"/>
<line x1="315.8" y1="983.8" x2="315.8" y2="994.8" stroke="#000" stroke-width="1" stroke-opacity="0.38"/>
<line x1="322.2" y1="983.8" x2="322.2" y2="994.8" stroke="#000" stroke-width="1" stroke-opacity="0.38"/>
<line x1="323.4" y1="983.8" x2="323.4" y2="994.8" stroke="#000" stroke-width="1" stroke-opacity="0.38"/>
<line x1="326.2" y1="983.8" x2="326.2" y2="994.8" stroke="#000" stroke-width="1" stroke-opacity="0.38"/>
<line x1="329.4" y1="983.8" x2="329.4" y2="994.8" stroke="#000" stroke-width="1" stroke-opacity="0.38"/>
<line x1="333.5" y1="983.8" x2="333.5" y2="994.8" stroke="#000" stroke-width="1" stroke-opacity="0.38"/>
<line x1="340.4" y1="983.8" x2="340.4" y2="994.8" stroke="#000" stroke-width="1" stroke-opacity="0.38"/>
<line x1="343.1" y1="983.8" x2="343.1" y2="994.8" stroke="#000" stroke-width="1" stroke-opacity="0.38"/>
<line x1="345.8" y1="983.8" x2="345.8" y2="994.8" stroke="#000" stroke-width="1" stroke-opacity="0.38"/>
<line x1="356.4" y1="983.8" x2="356.4" y2="994.8" stroke="#000" stroke-width="1" stroke-opacity="0.38"/>
<line x1="358.6" y1="983.8" x2="358.6" y2="994.8" stroke="#000" stroke-width="1" stroke-opacity="0.38"/>
<line x1="363.1" y1="983.8" x2="363.1" y2="994.8" stroke="#000" stroke-width="1" stroke-opacity="0.38"/>
<line x1="366.8" y1="983.8" x2="366.8" y2="994.8" stroke="#000" stroke-width="1" stroke-opacity="0.38"/>
<line x1="369.5" y1="983.8" x2="369.5" y2="994.8" stroke="#000" stroke-width="1" stroke-opacity="0.38"/>
<line x1="371.3" y1="983.8" x2="371.3" y2="994.8" stroke="#000" stroke-width="1" stroke-opacity="0.38"/>
<line x1="373.2" y1="983.8" x2="373.2" y2="994.8" stroke="#000" stroke-width="1" stroke-opacity="0.38"/>
<line x1="375" y1="983.8" x2="375" y2="994.8" stroke="#000" stroke-width="1" stroke-opacity="0.38"/>
<line x1="376.3" y1="983.8" x2="376.3" y2="994.8" stroke="#000" stroke-width="1" stroke-opacity="0.38"/>
<line x1="380.5" y1="983.8" x2="380.5" y2="994.8" stroke="#000" stroke-width="1" stroke-opacity="0.38"/>
<line x1="395.9" y1="983.8" x2="395.9" y2="994.8" stroke="#000" stroke-width="1" stroke-opacity="0.38"/>
<line x1="396.3" y1="983.8" x2="396.3" y2="994.8" stroke="#000" stroke-width="1" stroke-opacity="0.38"/>
<line x1="407.8" y1="983.8" x2="407.8" y2="994.8" stroke="#000" stroke-width="1" stroke-opacity="0.38"/>
<line x1="409.1" y1="983.8" x2="409.1" y2="994.8" stroke="#000" stroke-width="1" stroke-opacity="0.38"/>
<line x1="413.3" y1="983.8" x2="413.3" y2="994.8" stroke="#000" stroke-width="1" stroke-opacity="0.38"/>
<line x1="413.3" y1="983.8" x2="413.3" y2="994.8" stroke="#000" stroke-width="1" stroke-opacity="0.38"/>
<line x1="420.4" y1="983.8" x2="420.4" y2="994.8" stroke="#000" stroke-width="1" stroke-opacity="0.38"/>
<line x1="424.2" y1="983.8" x2="424.2" y2="994.8" stroke="#000" stroke-width="1" stroke-opacity="0.38"/>
<line x1="424.5" y1="983.8" x2="424.5" y2="994.8" stroke="#000" stroke-width="1" stroke-opacity="0.38"/>
<line x1="430.2" y1="983.8" x2="430.2" y2="994.8" stroke="#000" stroke-width="1" stroke-opacity="0.38"/>
<line x1="432.5" y1="983.8" x2="432.5" y2="994.8" stroke="#000" stroke-width="1" stroke-opacity="0.38"/>
<line x1="434.4" y1="983.8" x2="434.4" y2="994.8" stroke="#000" stroke-width="1" stroke-opacity="0.38"/>
<line x1="435.2" y1="983.8" x2="435.2" y2="994.8" stroke="#000" stroke-width="1" stroke-opacity="0.38"/>
<line x1="441.5" y1="983.8" x2="441.5" y2="994.8" stroke="#000" stroke-width="1" stroke-opacity="0.38"/>
<line x1="442.3" y1="983.8" x2="442.3" y2="994.8" stroke="#000" stroke-width="1" stroke-opacity="0.38"/>
<line x1="445.5" y1="983.8" x2="445.5" y2="994.8" stroke="#000" stroke-width="1" stroke-opacity="0.38"/>
<line x1="446.3" y1="983.8" x2="446.3" y2="994.8" stroke="#000" stroke-width="1" stroke-opacity="0.38"/>
<line x1="451.8" y1="983.8" x2="451.8" y2="994.8" stroke="#000" stroke-width="1" stroke-opacity="0.38"/>
<line x1="454.5" y1="983.8" x2="454.5" y2="994.8" stroke="#000" stroke-width="1" stroke-opacity="0.38"/>
<line x1="456.4" y1="983.8" x2="456.4" y2="994.8" stroke="#000" stroke-width="1" stroke-opacity="0.38"/>
<line x1="458" y1="983.8" x2="458" y2="994.8" stroke="#000" stroke-width="1" stroke-opacity="0.38"/>
<line x1="459.4" y1="983.8" x2="459.4" y2="994.8" stroke="#000" stroke-width="1" stroke-opacity="0.38"/>
<line x1="460.8" y1="983.8" x2="460.8" y2="994.8" stroke="#000" stroke-width="1" stroke-opacity="0.38"/>
<line x1="469.7" y1="983.8" x2="469.7" y2="994.8" stroke="#000" stroke-width="1" stroke-opacity="0.38"/>
<line x1="471.5" y1="983.8" x2="471.5" y2="994.8" stroke="#000" stroke-width="1" stroke-opacity="0.38"/>
<line x1="474.3" y1="983.8" x2="474.3" y2="994.8" stroke="#000" stroke-width="1" stroke-opacity="0.38"/>
<line x1="476.5" y1="983.8" x2="476.5" y2="994.8" stroke="#000" stroke-width="1" stroke-opacity="0.38"/>
<line x1="476.8" y1="983.8" x2="476.8" y2="994.8" stroke="#000" stroke-width="1" stroke-opacity="0.38"/>
<line x1="478.3" y1="983.8" x2="478.3" y2="994.8" stroke="#000" stroke-width="1" stroke-opacity="0.38"/>
<line x1="479.3" y1="983.8" x2="479.3" y2="994.8" stroke="#000" stroke-width="1" stroke-opacity="0.38"/>
<line x1="482.5" y1="983.8" x2="482.5" y2="994.8" stroke="#000" stroke-width="1" stroke-opacity="0.38"/>
<line x1="483.3" y1="983.8" x2="483.3" y2="994.8" stroke="#000" stroke-width="1" stroke-opacity="0.38"/>
<line x1="485.4" y1="983.8" x2="485.4" y2="994.8" stroke="#000" stroke-width="1" stroke-opacity="0.38"/>
<line x1="490" y1="983.8" x2="490" y2="994.8" stroke="#000" stroke-width="1" stroke-opacity="0.38"/>
<line x1="490.6" y1="983.8" x2="490.6" y2="994.8" stroke="#000" stroke-width="1" stroke-opacity="0.38"/>
<line x1="492.5" y1="983.8" x2="492.5" y2="994.8" stroke="#000" stroke-width="1" stroke-opacity="0.38"/>
<line x1="494.5" y1="983.8" x2="494.5" y2="994.8" stroke="#000" stroke-width="1" stroke-opacity="0.38"/>
<line x1="496.5" y1="983.8" x2="496.5" y2="994.8" stroke="#000" stroke-width="1" stroke-opacity="0.38"/>
<line x1="498.6" y1="983.8" x2="498.6" y2="994.8" stroke="#000" stroke-width="1" stroke-opacity="0.38"/>
<line x1="500.4" y1="983.8" x2="500.4" y2="994.8" stroke="#000" stroke-width="1" stroke-opacity="0.38"/>
<line x1="500.7" y1="983.8" x2="500.7" y2="994.8" stroke="#000" stroke-width="1" stroke-opacity="0.38"/>
<line x1="502.5" y1="983.8" x2="502.5" y2="994.8" stroke="#000" stroke-width="1" stroke-opacity="0.38"/>
<line x1="503.3" y1="983.8" x2="503.3" y2="994.8" stroke="#000" stroke-width="1" stroke-opacity="0.38"/>
<line x1="507.4" y1="983.8" x2="507.4" y2="994.8" stroke="#000" stroke-width="1" stroke-opacity="0.38"/>
<line x1="507.7" y1="983.8" x2="507.7" y2="994.8" stroke="#000" stroke-width="1" stroke-opacity="0.38"/>
<line x1="510.5" y1="983.8" x2="510.5" y2="994.8" stroke="#000" stroke-width="1" stroke-opacity="0.38"/>
<line x1="514.8" y1="983.8" x2="514.8" y2="994.8" stroke="#000" stroke-width="1" stroke-opacity="0.38"/>
<line x1="515.8" y1="983.8" x2="515.8" y2="994.8" stroke="#000" stroke-width="1" stroke-opacity="0.38"/>
<line x1="518.5" y1="983.8" x2="518.5" y2="994.8" stroke="#000" stroke-width="1" stroke-opacity="0.38"/>
<line x1="518.8" y1="983.8" x2="518.8" y2="994.8" stroke="#000" stroke-width="1" stroke-opacity="0.38"/>
<line x1="521.3" y1="983.8" x2="521.3" y2="994.8" stroke="#000" stroke-width="1" stroke-opacity="0.38"/>
<line x1="523.4" y1="983.8" x2="523.4" y2="994.8" stroke="#000" stroke-width="1" stroke-opacity="0.38"/>
<line x1="525.4" y1="983.8" x2="525.4" y2="994.8" stroke="#000" stroke-width="1" stroke-opacity="0.38"/>
<line x1="530.5" y1="983.8" x2="530.5" y2="994.8" stroke="#000" stroke-width="1" stroke-opacity="0.38"/>
<line x1="531.5" y1="983.8" x2="531.5" y2="994.8" stroke="#000" stroke-width="1" stroke-opacity="0.38"/>
<line x1="534.3" y1="983.8" x2="534.3" y2="994.8" stroke="#000" stroke-width="1" stroke-opacity="0.38"/>
<line x1="534.6" y1="983.8" x2="534.6" y2="994.8" stroke="#000" stroke-width="1" stroke-opacity="0.38"/>
<line x1="537.6" y1="983.8" x2="537.6" y2="994.8" stroke="#000" stroke-width="1" stroke-opacity="0.38"/>
<line x1="538.4" y1="983.8" x2="538.4" y2="994.8" stroke="#000" stroke-width="1" stroke-opacity="0.38"/>
<line x1="540.6" y1="983.8" x2="540.6" y2="994.8" stroke="#000" stroke-width="1" stroke-opacity="0.38"/>
<line x1="540.9" y1="983.8" x2="540.9" y2="994.8" stroke="#000" stroke-width="1" stroke-opacity="0.38"/>
<line x1="542.6" y1="983.8" x2="542.6" y2="994.8" stroke="#000" stroke-width="1" stroke-opacity="0.38"/>
<line x1="545.6" y1="983.8" x2="545.6" y2="994.8" stroke="#000" stroke-width="1" stroke-opacity="0.38"/>
<line x1="546.1" y1="983.8" x2="546.1" y2="994.8" stroke="#000" stroke-width="1" stroke-opacity="0.38"/>
<line x1="546.6" y1="983.8" x2="546.6" y2="994.8" stroke="#000" stroke-width="1" stroke-opacity="0.38"/>
<line x1="549.2" y1="983.8" x2="549.2" y2="994.8" stroke="#000" stroke-width="1" stroke-opacity="0.38"/>
<line x1="552.7" y1="983.8" x2="552.7" y2="994.8" stroke="#000" stroke-width="1" stroke-opacity="0.38"/>
<line x1="553" y1="983.8" x2="553" y2="994.8" stroke="#000" stroke-width="1" stroke-opacity="0.38"/>
<line x1="557.3" y1="983.8" x2="557.3" y2="994.8" stroke="#000" stroke-width="1" stroke-opacity="0.38"/>
<line x1="552.8" y1="983.8" x2="552.8" y2="994.8" stroke="#000" stroke-width="1" stroke-opacity="0.38"/>
<line x1="557.4" y1="983.8" x2="557.4" y2="994.8" stroke="#000" stroke-width="1" stroke-opacity="0.38"/>
<line x1="559.4" y1="983.8" x2="559.4" y2="994.8" stroke="#000" stroke-width="1" stroke-opacity="0.38"/>
<line x1="563.5" y1="983.8" x2="563.5" y2="994.8" stroke="#000" stroke-width="1" stroke-opacity="0.38"/>
<line x1="565.7" y1="983.8" x2="565.7" y2="994.8" stroke="#000" stroke-width="1" stroke-opacity="0.38"/>
<line x1="566.5" y1="983.8" x2="566.5" y2="994.8" stroke="#000" stroke-width="1" stroke-opacity="0.38"/>
<line x1="567.5" y1="983.8" x2="567.5" y2="994.8" stroke="#000" stroke-width="1" stroke-opacity="0.38"/>
<line x1="568.5" y1="983.8" x2="568.5" y2="994.8" stroke="#000" stroke-width="1" stroke-opacity="0.38"/>
<line x1="570" y1="983.8" x2="570" y2="994.8" stroke="#000" stroke-width="1" stroke-opacity="0.38"/>
<line x1="571" y1="983.8" x2="571" y2="994.8" stroke="#000" stroke-width="1" stroke-opacity="0.38"/>
<line x1="572.5" y1="983.8" x2="572.5" y2="994.8" stroke="#000" stroke-width="1" stroke-opacity="0.38"/>
<line x1="573.8" y1="983.8" x2="573.8" y2="994.8" stroke="#000" stroke-width="1" stroke-opacity="0.38"/>
<line x1="576.3" y1="983.8" x2="576.3" y2="994.8" stroke="#000" stroke-width="1" stroke-opacity="0.38"/>
<line x1="577.5" y1="983.8" x2="577.5" y2="994.8" stroke="#000" stroke-width="1" stroke-opacity="0.38"/>
<line x1="578.5" y1="983.8" x2="578.5" y2="994.8" stroke="#000" stroke-width="1" stroke-opacity="0.38"/>
<line x1="580" y1="983.8" x2="580" y2="994.8" stroke="#000" stroke-width="1" stroke-opacity="0.38"/>
<line x1="582.6" y1="983.8" x2="582.6" y2="994.8" stroke="#000" stroke-width="1" stroke-opacity="0.38"/>
<line x1="582.9" y1="983.8" x2="582.9" y2="994.8" stroke="#000" stroke-width="1" stroke-opacity="0.38"/>
<line x1="585.9" y1="983.8" x2="585.9" y2="994.8" stroke="#000" stroke-width="1" stroke-opacity="0.38"/>
<line x1="588.5" y1="983.8" x2="588.5" y2="994.8" stroke="#000" stroke-width="1" stroke-opacity="0.38"/>
<line x1="590.3" y1="983.8" x2="590.3" y2="994.8" stroke="#000" stroke-width="1" stroke-opacity="0.38"/>
<line x1="593.8" y1="983.8" x2="593.8" y2="994.8" stroke="#000" stroke-width="1" stroke-opacity="0.38"/>
<line x1="596.6" y1="983.8" x2="596.6" y2="994.8" stroke="#000" stroke-width="1" stroke-opacity="0.38"/>
<line x1="597.8" y1="983.8" x2="597.8" y2="994.8" stroke="#000" stroke-width="1" stroke-opacity="0.38"/>
<line x1="598.6" y1="983.8" x2="598.6" y2="994.8" stroke="#000" stroke-width="1" stroke-opacity="0.38"/>
<line x1="599.5" y1="983.8" x2="599.5" y2="994.8" stroke="#000" stroke-width="1" stroke-opacity="0.38"/>
<line x1="600.7" y1="983.8" x2="600.7" y2="994.8" stroke="#000" stroke-width="1" stroke-opacity="0.38"/>
<line x1="601.6" y1="983.8" x2="601.6" y2="994.8" stroke="#000" stroke-width="1" stroke-opacity="0.38"/>
<line x1="602.5" y1="983.8" x2="602.5" y2="994.8" stroke="#000" stroke-width="1" stroke-opacity="0.38"/>
<line x1="603.5" y1="983.8" x2="603.5" y2="994.8" stroke="#000" stroke-width="1" stroke-opacity="0.38"/>
<line x1="604.6" y1="983.8" x2="604.6" y2="994.8" stroke="#000" stroke-width="1" stroke-opacity="0.38"/>
<line x1="605.6" y1="983.8" x2="605.6" y2="994.8" stroke="#000" stroke-width="1" stroke-opacity="0.38"/>
<line x1="606.7" y1="983.8" x2="606.7" y2="994.8" stroke="#000" stroke-width="1" stroke-opacity="0.38"/>
<line x1="610.7" y1="983.8" x2="610.7" y2="994.8" stroke="#000" stroke-width="1" stroke-opacity="0.38"/>
<line x1="611.2" y1="983.8" x2="611.2" y2="994.8" stroke="#000" stroke-width="1" stroke-opacity="0.38"/>
<line x1="612.8" y1="983.8" x2="612.8" y2="994.8" stroke="#000" stroke-width="1" stroke-opacity="0.38"/>
<line x1="614.8" y1="983.8" x2="614.8" y2="994.8" stroke="#000" stroke-width="1" stroke-opacity="0.38"/>
<line x1="617" y1="983.8" x2="617" y2="994.8" stroke="#000" stroke-width="1" stroke-opacity="0.38"/>
<line x1="620.3" y1="983.8" x2="620.3" y2="994.8" stroke="#000" stroke-width="1" stroke-opacity="0.38"/>
<line x1="620.8" y1="983.8" x2="620.8" y2="994.8" stroke="#000" stroke-width="1" stroke-opacity="0.38"/>
<line x1="622" y1="983.8" x2="622" y2="994.8" stroke="#000" stroke-width="1" stroke-opacity="0.38"/>
<line x1="623.5" y1="983.8" x2="623.5" y2="994.8" stroke="#000" stroke-width="1" stroke-opacity="0.38"/>
<line x1="625" y1="983.8" x2="625" y2="994.8" stroke="#000" stroke-width="1" stroke-opacity="0.38"/>
<line x1="626.5" y1="983.8" x2="626.5" y2="994.8" stroke="#000" stroke-width="1" stroke-opacity="0.38"/>
<line x1="627.5" y1="983.8" x2="627.5" y2="994.8" stroke="#000" stroke-width="1" stroke-opacity="0.38"/>
<line x1="628.5" y1="983.8" x2="628.5" y2="994.8" stroke="#000" stroke-width="1" stroke-opacity="0.38"/>
<line x1="630" y1="983.8" x2="630" y2="994.8" stroke="#000" stroke-width="1" stroke-opacity="0.38"/>
<line x1="635.3" y1="983.8" x2="635.3" y2="994.8" stroke="#000" stroke-width="1" stroke-opacity="0.38"/>
<line x1="638" y1="983.8" x2="638" y2="994.8" stroke="#000" stroke-width="1" stroke-opacity="0.38"/>
<line x1="639.5" y1="983.8" x2="639.5" y2="994.8" stroke="#000" stroke-width="1" stroke-opacity="0.38"/>
<line x1="641" y1="983.8" x2="641" y2="994.8" stroke="#000" stroke-width="1" stroke-opacity="0.38"/>
<line x1="642.6" y1="983.8" x2="642.6" y2="994.8" stroke="#000" stroke-width="1" stroke-opacity="0.38"/>
<line x1="645.3" y1="983.8" x2="645.3" y2="994.8" stroke="#000" stroke-width="1" stroke-opacity="0.38"/>
<line x1="647.4" y1="983.8" x2="647.4" y2="994.8" stroke="#000" stroke-width="1" stroke-opacity="0.38"/>
<line x1="647.7" y1="983.8" x2="647.7" y2="994.8" stroke="#000" stroke-width="1" stroke-opacity="0.38"/>
<line x1="650.5" y1="983.8" x2="650.5" y2="994.8" stroke="#000" stroke-width="1" stroke-opacity="0.38"/>
<line x1="657.5" y1="983.8" x2="657.5" y2="994.8" stroke="#000" stroke-width="1" stroke-opacity="0.38"/>
<line x1="667.4" y1="983.8" x2="667.4" y2="994.8" stroke="#000" stroke-width="1" stroke-opacity="0.38"/>
<line x1="677.5" y1="983.8" x2="677.5" y2="994.8" stroke="#000" stroke-width="1" stroke-opacity="0.38"/>
<line x1="133.08" y1="1529.1" x2="730.32" y2="983.8" stroke="#e0e0e0" stroke-width="1.3"/>
<line x1="133.08" y1="983.8" x2="133.08" y2="1529.1" stroke="#555" stroke-width="1.4"/>
<line x1="133.08" y1="1529.1" x2="730.32" y2="1529.1" stroke="#555" stroke-width="1.4"/>
<line x1="155.2" y1="1529.1" x2="708.2" y2="1529.1" stroke="#1a1a1a" stroke-width="1.9"/>
<line x1="133.08" y1="1508.9" x2="133.08" y2="1004" stroke="#1a1a1a" stroke-width="1.9"/>
<line x1="155.2" y1="1529.1" x2="155.2" y2="1538.1" stroke="#5e5e5e" stroke-width="1.4"/>
<line x1="133.08" y1="1508.9" x2="123.78" y2="1508.9" stroke="#5e5e5e" stroke-width="1.4"/>
<text transform="translate(144.92,1560.8) scale(1.0200,1)" font-size="14.5" font-family='"Liberation Sans", sans-serif'>0.0</text>
<text transform="translate(112.1,1519.18) rotate(-90) scale(1.0200,1)" font-size="14.5" font-family='"Liberation Sans", sans-serif'>0.0</text>
<line x1="265.8" y1="1529.1" x2="265.8" y2="1538.1" stroke="#5e5e5e" stroke-width="1.4"/>
<line x1="133.08" y1="1407.92" x2="123.78" y2="1407.92" stroke="#5e5e5e" stroke-width="1.4"/>
<text transform="translate(255.52,1560.8) scale(1.0200,1)" font-size="14.5" font-family='"Liberation Sans", sans-serif'>0.2</text>
<text transform="translate(112.1,1418.2) rotate(-90) scale(1.0200,1)" font-size="14.5" font-family='"Liberation Sans", sans-serif'>0.2</text>
<line x1="376.4" y1="1529.1" x2="376.4" y2="1538.1" stroke="#5e5e5e" stroke-width="1.4"/>
<line x1="133.08" y1="1306.94" x2="123.78" y2="1306.94" stroke="#5e5e5e" stroke-width="1.4"/>
<text transform="translate(366.12,1560.8) scale(1.0200,1)" font-size="14.5" font-family='"Liberation Sans", sans-serif'>0.4</text>
<text transform="translate(112.1,1317.22) rotate(-90) scale(1.0200,1)" font-size="14.5" font-family='"Liberation Sans", sans-serif'>0.4</text>
<line x1="487" y1="1529.1" x2="487" y2="1538.1" stroke="#5e5e5e" stroke-width="1.4"/>
<line x1="133.08" y1="1205.96" x2="123.78" y2="1205.96" stroke="#5e5e5e" stroke-width="1.4"/>
<text transform="translate(476.72,1560.8) scale(1.0200,1)" font-size="14.5" font-family='"Liberation Sans", sans-serif'>0.6</text>
<text transform="translate(112.1,1216.24) rotate(-90) scale(1.0200,1)" font-size="14.5" font-family='"Liberation Sans", sans-serif'>0.6</text>
<line x1="597.6" y1="1529.1" x2="597.6" y2="1538.1" stroke="#5e5e5e" stroke-width="1.4"/>
<line x1="133.08" y1="1104.98" x2="123.78" y2="1104.98" stroke="#5e5e5e" stroke-width="1.4"/>
<text transform="translate(587.32,1560.8) scale(1.0200,1)" font-size="14.5" font-family='"Liberation Sans", sans-serif'>0.8</text>
<text transform="translate(112.1,1115.26) rotate(-90) scale(1.0200,1)" font-size="14.5" font-family='"Liberation Sans", sans-serif'>0.8</text>
<line x1="708.2" y1="1529.1" x2="708.2" y2="1538.1" stroke="#5e5e5e" stroke-width="1.4"/>
<line x1="133.08" y1="1004" x2="123.78" y2="1004" stroke="#5e5e5e" stroke-width="1.4"/>
<text transform="translate(697.92,1560.8) scale(1.0200,1)" font-size="14.5" font-family='"Liberation Sans", sans-serif'>1.0</text>
<text transform="translate(112.1,1014.28) rotate(-90) scale(1.0200,1)" font-size="14.5" font-family='"Liberation Sans", sans-serif'>1.0</text>
<text transform="translate(319.78,1596.1) scale(1.0174,1)" font-size="17" font-family='"Liberation Sans", sans-serif'>Nomogram−prediced OS (%)</text>
<text transform="translate(76.4,1324.57) rotate(-90) scale(1.0175,1)" font-size="17" font-family='"Liberation Sans", sans-serif'>Observed OS (%)</text>
<line x1="148.1" y1="1005" x2="181.7" y2="1005" stroke="#2166AC" stroke-width="2"/>
<line x1="148.1" y1="1026.4" x2="181.7" y2="1026.4" stroke="#B2182B" stroke-width="2"/>
<text transform="translate(196.32,1010.8) scale(1.0000,1)" font-size="17" font-family='"Liberation Sans", sans-serif' fill="#000">5−year</text>
<text transform="translate(196.35,1032.5) scale(1.0000,1)" font-size="17" font-family='"Liberation Sans", sans-serif' fill="#000">3−year</text>
<line x1="359.47" y1="1294.5" x2="524.61" y2="1222.49" stroke="#2166AC" stroke-width="1.6"/>
<line x1="535.88" y1="1211.33" x2="599.32" y2="1069.82" stroke="#2166AC" stroke-width="1.6"/>
<path d="M347.88 1285.32L355.48 1292.92M347.88 1292.92L355.48 1285.32" stroke="#0000FF" stroke-width="1.15" fill="none"/>
<path d="M528.6 1224.58L536.2 1232.18M528.6 1232.18L536.2 1224.58" stroke="#0000FF" stroke-width="1.15" fill="none"/>
<path d="M599 1061.8L606.6 1069.4M599 1069.4L606.6 1061.8" stroke="#0000FF" stroke-width="1.15" fill="none"/>
<circle cx="351.68" cy="1297.9" r="3.6" fill="#2166AC"/>
<circle cx="532.4" cy="1219.09" r="3.6" fill="#2166AC"/>
<circle cx="602.8" cy="1062.06" r="3.6" fill="#2166AC"/>
<line x1="404.26" y1="1292.98" x2="559.45" y2="1189.47" stroke="#B2182B" stroke-width="1.6"/>
<line x1="569.33" y1="1176.73" x2="622.11" y2="1025.91" stroke="#B2182B" stroke-width="1.6"/>
<path d="M393.39 1288.8L400.99 1296.4M393.39 1296.4L400.99 1288.8" stroke="#0000FF" stroke-width="1.15" fill="none"/>
<path d="M562.72 1190.7L570.32 1198.3M562.72 1198.3L570.32 1190.7" stroke="#0000FF" stroke-width="1.15" fill="none"/>
<path d="M621.12 1016.71L628.72 1024.31M621.12 1024.31L628.72 1016.71" stroke="#0000FF" stroke-width="1.15" fill="none"/>
<circle cx="397.19" cy="1297.7" r="3.6" fill="#B2182B"/>
<circle cx="566.52" cy="1184.75" r="3.6" fill="#B2182B"/>
<circle cx="624.92" cy="1017.88" r="3.6" fill="#B2182B"/>
<line x1="133.08" y1="1529.1" x2="730.32" y2="983.8" stroke="#264646" stroke-width="2.1" stroke-dasharray="0 7.377" stroke-dashoffset="0.04" stroke-linecap="round"/>
<line x1="888.5" y1="1000.1" x2="888.5" y2="1010.4" stroke="#000" stroke-width="1" stroke-opacity="0.38"/>
<line x1="994.4" y1="1000.1" x2="994.4" y2="1010.4" stroke="#000" stroke-width="1" stroke-opacity="0.38"/>
<line x1="1031.5" y1="1000.1" x2="1031.5" y2="1010.4" stroke="#000" stroke-width="1" stroke-opacity="0.38"/>
<line x1="1040.3" y1="1000.1" x2="1040.3" y2="1010.4" stroke="#000" stroke-width="1" stroke-opacity="0.38"/>
<line x1="1051.4" y1="1000.1" x2="1051.4" y2="1010.4" stroke="#000" stroke-width="1" stroke-opacity="0.38"/>
<line x1="1083.4" y1="1000.1" x2="1083.4" y2="1010.4" stroke="#000" stroke-width="1" stroke-opacity="0.38"/>
<line x1="1125.3" y1="1000.1" x2="1125.3" y2="1010.4" stroke="#000" stroke-width="1" stroke-opacity="0.38"/>
<line x1="1162.3" y1="1000.1" x2="1162.3" y2="1010.4" stroke="#000" stroke-width="1" stroke-opacity="0.38"/>
<line x1="1191.5" y1="1000.1" x2="1191.5" y2="1010.4" stroke="#000" stroke-width="1" stroke-opacity="0.38"/>
<line x1="1207.9" y1="1000.1" x2="1207.9" y2="1010.4" stroke="#000" stroke-width="1" stroke-opacity="0.38"/>
<line x1="1230.9" y1="1000.1" x2="1230.9" y2="1010.4" stroke="#000" stroke-width="1" stroke-opacity="0.38"/>
<line x1="1284.3" y1="1000.1" x2="1284.3" y2="1010.4" stroke="#000" stroke-width="1" stroke-opacity="0.38"/>
<line x1="1293.4" y1="1000.1" x2="1293.4" y2="1010.4" stroke="#000" stroke-width="1" stroke-opacity="0.38"/>
<line x1="1345.7" y1="1000.1" x2="1345.7" y2="1010.4" stroke="#000" stroke-width="1" stroke-opacity="0.38"/>
<line x1="884.2" y1="1000.1" x2="884.2" y2="1010.4" stroke="#000" stroke-width="1" stroke-opacity="0.38"/>
<line x1="886" y1="1000.1" x2="886" y2="1010.4" stroke="#000" stroke-width="1" stroke-opacity="0.38"/>
<line x1="888.5" y1="1000.1" x2="888.5" y2="1010.4" stroke="#000" stroke-width="1" stroke-opacity="0.38"/>
<line x1="888.8" y1="1000.1" x2="888.8" y2="1010.4" stroke="#000" stroke-width="1" stroke-opacity="0.38"/>
<line x1="892" y1="1000.1" x2="892" y2="1010.4" stroke="#000" stroke-width="1" stroke-opacity="0.38"/>
<line x1="894" y1="1000.1" x2="894" y2="1010.4" stroke="#000" stroke-width="1" stroke-opacity="0.38"/>
<line x1="896.6" y1="1000.1" x2="896.6" y2="1010.4" stroke="#000" stroke-width="1" stroke-opacity="0.38"/>
<line x1="900.4" y1="1000.1" x2="900.4" y2="1010.4" stroke="#000" stroke-width="1" stroke-opacity="0.38"/>
<line x1="918.5" y1="1000.1" x2="918.5" y2="1010.4" stroke="#000" stroke-width="1" stroke-opacity="0.38"/>
<line x1="926.3" y1="1000.1" x2="926.3" y2="1010.4" stroke="#000" stroke-width="1" stroke-opacity="0.38"/>
<line x1="944.5" y1="1000.1" x2="944.5" y2="1010.4" stroke="#000" stroke-width="1" stroke-opacity="0.38"/>
<line x1="957.2" y1="1000.1" x2="957.2" y2="1010.4" stroke="#000" stroke-width="1" stroke-opacity="0.38"/>
<line x1="958.2" y1="1000.1" x2="958.2" y2="1010.4" stroke="#000" stroke-width="1" stroke-opacity="0.38"/>
<line x1="964.3" y1="1000.1" x2="964.3" y2="1010.4" stroke="#000" stroke-width="1" stroke-opacity="0.38"/>
<line x1="979.3" y1="1000.1" x2="979.3" y2="1010.4" stroke="#000" stroke-width="1" stroke-opacity="0.38"/>
<line x1="981.3" y1="1000.1" x2="981.3" y2="1010.4" stroke="#000" stroke-width="1" stroke-opacity="0.38"/>
<line x1="988.4" y1="1000.1" x2="988.4" y2="1010.4" stroke="#000" stroke-width="1" stroke-opacity="0.38"/>
<line x1="994.4" y1="1000.1" x2="994.4" y2="1010.4" stroke="#000" stroke-width="1" stroke-opacity="0.38"/>
<line x1="994.7" y1="1000.1" x2="994.7" y2="1010.4" stroke="#000" stroke-width="1" stroke-opacity="0.38"/>
<line x1="1006.6" y1="1000.1" x2="1006.6" y2="1010.4" stroke="#000" stroke-width="1" stroke-opacity="0.38"/>
<line x1="1008.6" y1="1000.1" x2="1008.6" y2="1010.4" stroke="#000" stroke-width="1" stroke-opacity="0.38"/>
<line x1="1015.4" y1="1000.1" x2="1015.4" y2="1010.4" stroke="#000" stroke-width="1" stroke-opacity="0.38"/>
<line x1="1022.4" y1="1000.1" x2="1022.4" y2="1010.4" stroke="#000" stroke-width="1" stroke-opacity="0.38"/>
<line x1="1024.4" y1="1000.1" x2="1024.4" y2="1010.4" stroke="#000" stroke-width="1" stroke-opacity="0.38"/>
<line x1="1031.5" y1="1000.1" x2="1031.5" y2="1010.4" stroke="#000" stroke-width="1" stroke-opacity="0.38"/>
<line x1="1031.8" y1="1000.1" x2="1031.8" y2="1010.4" stroke="#000" stroke-width="1" stroke-opacity="0.38"/>
<line x1="1040.3" y1="1000.1" x2="1040.3" y2="1010.4" stroke="#000" stroke-width="1" stroke-opacity="0.38"/>
<line x1="1040.6" y1="1000.1" x2="1040.6" y2="1010.4" stroke="#000" stroke-width="1" stroke-opacity="0.38"/>
<line x1="1046.4" y1="1000.1" x2="1046.4" y2="1010.4" stroke="#000" stroke-width="1" stroke-opacity="0.38"/>
<line x1="1048.4" y1="1000.1" x2="1048.4" y2="1010.4" stroke="#000" stroke-width="1" stroke-opacity="0.38"/>
<line x1="1051.4" y1="1000.1" x2="1051.4" y2="1010.4" stroke="#000" stroke-width="1" stroke-opacity="0.38"/>
<line x1="1051.7" y1="1000.1" x2="1051.7" y2="1010.4" stroke="#000" stroke-width="1" stroke-opacity="0.38"/>
<line x1="1069.3" y1="1000.1" x2="1069.3" y2="1010.4" stroke="#000" stroke-width="1" stroke-opacity="0.38"/>
<line x1="1074.5" y1="1000.1" x2="1074.5" y2="1010.4" stroke="#000" stroke-width="1" stroke-opacity="0.38"/>
<line x1="1077.5" y1="1000.1" x2="1077.5" y2="1010.4" stroke="#000" stroke-width="1" stroke-opacity="0.38"/>
<line x1="1083.4" y1="1000.1" x2="1083.4" y2="1010.4" stroke="#000" stroke-width="1" stroke-opacity="0.38"/>
<line x1="1083.7" y1="1000.1" x2="1083.7" y2="1010.4" stroke="#000" stroke-width="1" stroke-opacity="0.38"/>
<line x1="1092.5" y1="1000.1" x2="1092.5" y2="1010.4" stroke="#000" stroke-width="1" stroke-opacity="0.38"/>
<line x1="1096.1" y1="1000.1" x2="1096.1" y2="1010.4" stroke="#000" stroke-width="1" stroke-opacity="0.38"/>
<line x1="1105.5" y1="1000.1" x2="1105.5" y2="1010.4" stroke="#000" stroke-width="1" stroke-opacity="0.38"/>
<line x1="1113.4" y1="1000.1" x2="1113.4" y2="1010.4" stroke="#000" stroke-width="1" stroke-opacity="0.38"/>
<line x1="1117.4" y1="1000.1" x2="1117.4" y2="1010.4" stroke="#000" stroke-width="1" stroke-opacity="0.38"/>
<line x1="1125.3" y1="1000.1" x2="1125.3" y2="1010.4" stroke="#000" stroke-width="1" stroke-opacity="0.38"/>
<line x1="1125.6" y1="1000.1" x2="1125.6" y2="1010.4" stroke="#000" stroke-width="1" stroke-opacity="0.38"/>
<line x1="1131.3" y1="1000.1" x2="1131.3" y2="1010.4" stroke="#000" stroke-width="1" stroke-opacity="0.38"/>
<line x1="1133.4" y1="1000.1" x2="1133.4" y2="1010.4" stroke="#000" stroke-width="1" stroke-opacity="0.38"/>
<line x1="1149.6" y1="1000.1" x2="1149.6" y2="1010.4" stroke="#000" stroke-width="1" stroke-opacity="0.38"/>
<line x1="1151.6" y1="1000.1" x2="1151.6" y2="1010.4" stroke="#000" stroke-width="1" stroke-opacity="0.38"/>
<line x1="1153.6" y1="1000.1" x2="1153.6" y2="1010.4" stroke="#000" stroke-width="1" stroke-opacity="0.38"/>
<line x1="1155.6" y1="1000.1" x2="1155.6" y2="1010.4" stroke="#000" stroke-width="1" stroke-opacity="0.38"/>
<line x1="1162.3" y1="1000.1" x2="1162.3" y2="1010.4" stroke="#000" stroke-width="1" stroke-opacity="0.38"/>
<line x1="1162.6" y1="1000.1" x2="1162.6" y2="1010.4" stroke="#000" stroke-width="1" stroke-opacity="0.38"/>
<line x1="1165.5" y1="1000.1" x2="1165.5" y2="1010.4" stroke="#000" stroke-width="1" stroke-opacity="0.38"/>
<line x1="1166.8" y1="1000.1" x2="1166.8" y2="1010.4" stroke="#000" stroke-width="1" stroke-opacity="0.38"/>
<line x1="1172.8" y1="1000.1" x2="1172.8" y2="1010.4" stroke="#000" stroke-width="1" stroke-opacity="0.38"/>
<line x1="1173.8" y1="1000.1" x2="1173.8" y2="1010.4" stroke="#000" stroke-width="1" stroke-opacity="0.38"/>
<line x1="1175.1" y1="1000.1" x2="1175.1" y2="1010.4" stroke="#000" stroke-width="1" stroke-opacity="0.38"/>
<line x1="1176.4" y1="1000.1" x2="1176.4" y2="1010.4" stroke="#000" stroke-width="1" stroke-opacity="0.38"/>
<line x1="1177.4" y1="1000.1" x2="1177.4" y2="1010.4" stroke="#000" stroke-width="1" stroke-opacity="0.38"/>
<line x1="1178.7" y1="1000.1" x2="1178.7" y2="1010.4" stroke="#000" stroke-width="1" stroke-opacity="0.38"/>
<line x1="1180.5" y1="1000.1" x2="1180.5" y2="1010.4" stroke="#000" stroke-width="1" stroke-opacity="0.38"/>
<line x1="1181.7" y1="1000.1" x2="1181.7" y2="1010.4" stroke="#000" stroke-width="1" stroke-opacity="0.38"/>
<line x1="1187.2" y1="1000.1" x2="1187.2" y2="1010.4" stroke="#000" stroke-width="1" stroke-opacity="0.38"/>
<line x1="1189" y1="1000.1" x2="1189" y2="1010.4" stroke="#000" stroke-width="1" stroke-opacity="0.38"/>
<line x1="1191.5" y1="1000.1" x2="1191.5" y2="1010.4" stroke="#000" stroke-width="1" stroke-opacity="0.38"/>
<line x1="1191.8" y1="1000.1" x2="1191.8" y2="1010.4" stroke="#000" stroke-width="1" stroke-opacity="0.38"/>
<line x1="1195.1" y1="1000.1" x2="1195.1" y2="1010.4" stroke="#000" stroke-width="1" stroke-opacity="0.38"/>
<line x1="1201.2" y1="1000.1" x2="1201.2" y2="1010.4" stroke="#000" stroke-width="1" stroke-opacity="0.38"/>
<line x1="1203.4" y1="1000.1" x2="1203.4" y2="1010.4" stroke="#000" stroke-width="1" stroke-opacity="0.38"/>
<line x1="1207.9" y1="1000.1" x2="1207.9" y2="1010.4" stroke="#000" stroke-width="1" stroke-opacity="0.38"/>
<line x1="1208.2" y1="1000.1" x2="1208.2" y2="1010.4" stroke="#000" stroke-width="1" stroke-opacity="0.38"/>
<line x1="1211.5" y1="1000.1" x2="1211.5" y2="1010.4" stroke="#000" stroke-width="1" stroke-opacity="0.38"/>
<line x1="1212.2" y1="1000.1" x2="1212.2" y2="1010.4" stroke="#000" stroke-width="1" stroke-opacity="0.38"/>
<line x1="1215.1" y1="1000.1" x2="1215.1" y2="1010.4" stroke="#000" stroke-width="1" stroke-opacity="0.38"/>
<line x1="1215.8" y1="1000.1" x2="1215.8" y2="1010.4" stroke="#000" stroke-width="1" stroke-opacity="0.38"/>
<line x1="1221" y1="1000.1" x2="1221" y2="1010.4" stroke="#000" stroke-width="1" stroke-opacity="0.38"/>
<line x1="1221.8" y1="1000.1" x2="1221.8" y2="1010.4" stroke="#000" stroke-width="1" stroke-opacity="0.38"/>
<line x1="1225.8" y1="1000.1" x2="1225.8" y2="1010.4" stroke="#000" stroke-width="1" stroke-opacity="0.38"/>
<line x1="1226.4" y1="1000.1" x2="1226.4" y2="1010.4" stroke="#000" stroke-width="1" stroke-opacity="0.38"/>
<line x1="1230.4" y1="1000.1" x2="1230.4" y2="1010.4" stroke="#000" stroke-width="1" stroke-opacity="0.38"/>
<line x1="1230.9" y1="1000.1" x2="1230.9" y2="1010.4" stroke="#000" stroke-width="1" stroke-opacity="0.38"/>
<line x1="1231.4" y1="1000.1" x2="1231.4" y2="1010.4" stroke="#000" stroke-width="1" stroke-opacity="0.38"/>
<line x1="1235.4" y1="1000.1" x2="1235.4" y2="1010.4" stroke="#000" stroke-width="1" stroke-opacity="0.38"/>
<line x1="1235.9" y1="1000.1" x2="1235.9" y2="1010.4" stroke="#000" stroke-width="1" stroke-opacity="0.38"/>
<line x1="1238.8" y1="1000.1" x2="1238.8" y2="1010.4" stroke="#000" stroke-width="1" stroke-opacity="0.38"/>
<line x1="1245.2" y1="1000.1" x2="1245.2" y2="1010.4" stroke="#000" stroke-width="1" stroke-opacity="0.38"/>
<line x1="1246" y1="1000.1" x2="1246" y2="1010.4" stroke="#000" stroke-width="1" stroke-opacity="0.38"/>
<line x1="1249.2" y1="1000.1" x2="1249.2" y2="1010.4" stroke="#000" stroke-width="1" stroke-opacity="0.38"/>
<line x1="1254.8" y1="1000.1" x2="1254.8" y2="1010.4" stroke="#000" stroke-width="1" stroke-opacity="0.38"/>
<line x1="1260.6" y1="1000.1" x2="1260.6" y2="1010.4" stroke="#000" stroke-width="1" stroke-opacity="0.38"/>
<line x1="1262.5" y1="1000.1" x2="1262.5" y2="1010.4" stroke="#000" stroke-width="1" stroke-opacity="0.38"/>
<line x1="1264.3" y1="1000.1" x2="1264.3" y2="1010.4" stroke="#000" stroke-width="1" stroke-opacity="0.38"/>
<line x1="1265.2" y1="1000.1" x2="1265.2" y2="1010.4" stroke="#000" stroke-width="1" stroke-opacity="0.38"/>
<line x1="1266.1" y1="1000.1" x2="1266.1" y2="1010.4" stroke="#000" stroke-width="1" stroke-opacity="0.38"/>
<line x1="1270.4" y1="1000.1" x2="1270.4" y2="1010.4" stroke="#000" stroke-width="1" stroke-opacity="0.38"/>
<line x1="1272.2" y1="1000.1" x2="1272.2" y2="1010.4" stroke="#000" stroke-width="1" stroke-opacity="0.38"/>
<line x1="1273.1" y1="1000.1" x2="1273.1" y2="1010.4" stroke="#000" stroke-width="1" stroke-opacity="0.38"/>
<line x1="1274" y1="1000.1" x2="1274" y2="1010.4" stroke="#000" stroke-width="1" stroke-opacity="0.38"/>
<line x1="1275.2" y1="1000.1" x2="1275.2" y2="1010.4" stroke="#000" stroke-width="1" stroke-opacity="0.38"/>
<line x1="1280.7" y1="1000.1" x2="1280.7" y2="1010.4" stroke="#000" stroke-width="1" stroke-opacity="0.38"/>
<line x1="1284.3" y1="1000.1" x2="1284.3" y2="1010.4" stroke="#000" stroke-width="1" stroke-opacity="0.38"/>
<line x1="1284.6" y1="1000.1" x2="1284.6" y2="1010.4" stroke="#000" stroke-width="1" stroke-opacity="0.38"/>
<line x1="1286.8" y1="1000.1" x2="1286.8" y2="1010.4" stroke="#000" stroke-width="1" stroke-opacity="0.38"/>
<line x1="1288.6" y1="1000.1" x2="1288.6" y2="1010.4" stroke="#000" stroke-width="1" stroke-opacity="0.38"/>
<line x1="1290.4" y1="1000.1" x2="1290.4" y2="1010.4" stroke="#000" stroke-width="1" stroke-opacity="0.38"/>
<line x1="1293.4" y1="1000.1" x2="1293.4" y2="1010.4" stroke="#000" stroke-width="1" stroke-opacity="0.38"/>
<line x1="1293.7" y1="1000.1" x2="1293.7" y2="1010.4" stroke="#000" stroke-width="1" stroke-opacity="0.38"/>
<line x1="1295.9" y1="1000.1" x2="1295.9" y2="1010.4" stroke="#000" stroke-width="1" stroke-opacity="0.38"/>
<line x1="1297.7" y1="1000.1" x2="1297.7" y2="1010.4" stroke="#000" stroke-width="1" stroke-opacity="0.38"/>
<line x1="1300.7" y1="1000.1" x2="1300.7" y2="1010.4" stroke="#000" stroke-width="1" stroke-opacity="0.38"/>
<line x1="1301.3" y1="1000.1" x2="1301.3" y2="1010.4" stroke="#000" stroke-width="1" stroke-opacity="0.38"/>
<line x1="1301.9" y1="1000.1" x2="1301.9" y2="1010.4" stroke="#000" stroke-width="1" stroke-opacity="0.38"/>
<line x1="1303.2" y1="1000.1" x2="1303.2" y2="1010.4" stroke="#000" stroke-width="1" stroke-opacity="0.38"/>
<line x1="1305.6" y1="1000.1" x2="1305.6" y2="1010.4" stroke="#000" stroke-width="1" stroke-opacity="0.38"/>
<line x1="1308" y1="1000.1" x2="1308" y2="1010.4" stroke="#000" stroke-width="1" stroke-opacity="0.38"/>
<line x1="1310.4" y1="1000.1" x2="1310.4" y2="1010.4" stroke="#000" stroke-width="1" stroke-opacity="0.38"/>
<line x1="1316.5" y1="1000.1" x2="1316.5" y2="1010.4" stroke="#000" stroke-width="1" stroke-opacity="0.38"/>
<line x1="1317.4" y1="1000.1" x2="1317.4" y2="1010.4" stroke="#000" stroke-width="1" stroke-opacity="0.38"/>
<line x1="1318.3" y1="1000.1" x2="1318.3" y2="1010.4" stroke="#000" stroke-width="1" stroke-opacity="0.38"/>
<line x1="1319.2" y1="1000.1" x2="1319.2" y2="1010.4" stroke="#000" stroke-width="1" stroke-opacity="0.38"/>
<line x1="1320.2" y1="1000.1" x2="1320.2" y2="1010.4" stroke="#000" stroke-width="1" stroke-opacity="0.38"/>
<line x1="1321.1" y1="1000.1" x2="1321.1" y2="1010.4" stroke="#000" stroke-width="1" stroke-opacity="0.38"/>
<line x1="1322" y1="1000.1" x2="1322" y2="1010.4" stroke="#000" stroke-width="1" stroke-opacity="0.38"/>
<line x1="1325" y1="1000.1" x2="1325" y2="1010.4" stroke="#000" stroke-width="1" stroke-opacity="0.38"/>
<line x1="1326.8" y1="1000.1" x2="1326.8" y2="1010.4" stroke="#000" stroke-width="1" stroke-opacity="0.38"/>
<line x1="1332.3" y1="1000.1" x2="1332.3" y2="1010.4" stroke="#000" stroke-width="1" stroke-opacity="0.38"/>
<line x1="1332.6" y1="1000.1" x2="1332.6" y2="1010.4" stroke="#000" stroke-width="1" stroke-opacity="0.38"/>
<line x1="1334.1" y1="1000.1" x2="1334.1" y2="1010.4" stroke="#000" stroke-width="1" stroke-opacity="0.38"/>
<line x1="1337.8" y1="1000.1" x2="1337.8" y2="1010.4" stroke="#000" stroke-width="1" stroke-opacity="0.38"/>
<line x1="1343.8" y1="1000.1" x2="1343.8" y2="1010.4" stroke="#000" stroke-width="1" stroke-opacity="0.38"/>
<line x1="1345.7" y1="1000.1" x2="1345.7" y2="1010.4" stroke="#000" stroke-width="1" stroke-opacity="0.38"/>
<line x1="1346" y1="1000.1" x2="1346" y2="1010.4" stroke="#000" stroke-width="1" stroke-opacity="0.38"/>
<line x1="1347.5" y1="1000.1" x2="1347.5" y2="1010.4" stroke="#000" stroke-width="1" stroke-opacity="0.38"/>
<line x1="1349.9" y1="1000.1" x2="1349.9" y2="1010.4" stroke="#000" stroke-width="1" stroke-opacity="0.38"/>
<line x1="1352.4" y1="1000.1" x2="1352.4" y2="1010.4" stroke="#000" stroke-width="1" stroke-opacity="0.38"/>
<line x1="1353.3" y1="1000.1" x2="1353.3" y2="1010.4" stroke="#000" stroke-width="1" stroke-opacity="0.38"/>
<line x1="1354.2" y1="1000.1" x2="1354.2" y2="1010.4" stroke="#000" stroke-width="1" stroke-opacity="0.38"/>
<line x1="1363.9" y1="1000.1" x2="1363.9" y2="1010.4" stroke="#000" stroke-width="1" stroke-opacity="0.38"/>
<line x1="1365.1" y1="1000.1" x2="1365.1" y2="1010.4" stroke="#000" stroke-width="1" stroke-opacity="0.38"/>
<line x1="1368.5" y1="1000.1" x2="1368.5" y2="1010.4" stroke="#000" stroke-width="1" stroke-opacity="0.38"/>
<line x1="1371.4" y1="1000.1" x2="1371.4" y2="1010.4" stroke="#000" stroke-width="1" stroke-opacity="0.38"/>
<line x1="1376.6" y1="1000.1" x2="1376.6" y2="1010.4" stroke="#000" stroke-width="1" stroke-opacity="0.38"/>
<line x1="1383.3" y1="1000.1" x2="1383.3" y2="1010.4" stroke="#000" stroke-width="1" stroke-opacity="0.38"/>
<line x1="1387.6" y1="1000.1" x2="1387.6" y2="1010.4" stroke="#000" stroke-width="1" stroke-opacity="0.38"/>
<line x1="1394.3" y1="1000.1" x2="1394.3" y2="1010.4" stroke="#000" stroke-width="1" stroke-opacity="0.38"/>
<line x1="861.26" y1="1531.39" x2="1445.54" y2="999.71" stroke="#e0e0e0" stroke-width="1.3"/>
<line x1="861.26" y1="999.71" x2="861.26" y2="1531.39" stroke="#000" stroke-width="1.25"/>
<line x1="861.26" y1="1531.39" x2="1445.54" y2="1531.39" stroke="#000" stroke-width="1.25"/>
<line x1="882.9" y1="1531.39" x2="1423.9" y2="1531.39" stroke="#000" stroke-width="1.3"/>
<line x1="861.26" y1="1511.7" x2="861.26" y2="1019.4" stroke="#000" stroke-width="1.3"/>
<line x1="882.9" y1="1531.39" x2="882.9" y2="1540.39" stroke="#000" stroke-width="1.1"/>
<line x1="861.26" y1="1511.7" x2="851.96" y2="1511.7" stroke="#000" stroke-width="1.1"/>
<text transform="translate(872.62,1562.9) scale(1.0200,1)" font-size="14.5" font-family='"Liberation Sans", sans-serif'>0.0</text>
<text transform="translate(840.5,1521.98) rotate(-90) scale(1.0200,1)" font-size="14.5" font-family='"Liberation Sans", sans-serif'>0.0</text>
<line x1="991.1" y1="1531.39" x2="991.1" y2="1540.39" stroke="#000" stroke-width="1.1"/>
<line x1="861.26" y1="1413.24" x2="851.96" y2="1413.24" stroke="#000" stroke-width="1.1"/>
<text transform="translate(980.82,1562.9) scale(1.0200,1)" font-size="14.5" font-family='"Liberation Sans", sans-serif'>0.2</text>
<text transform="translate(840.5,1423.52) rotate(-90) scale(1.0200,1)" font-size="14.5" font-family='"Liberation Sans", sans-serif'>0.2</text>
<line x1="1099.3" y1="1531.39" x2="1099.3" y2="1540.39" stroke="#000" stroke-width="1.1"/>
<line x1="861.26" y1="1314.78" x2="851.96" y2="1314.78" stroke="#000" stroke-width="1.1"/>
<text transform="translate(1089.02,1562.9) scale(1.0200,1)" font-size="14.5" font-family='"Liberation Sans", sans-serif'>0.4</text>
<text transform="translate(840.5,1325.06) rotate(-90) scale(1.0200,1)" font-size="14.5" font-family='"Liberation Sans", sans-serif'>0.4</text>
<line x1="1207.5" y1="1531.39" x2="1207.5" y2="1540.39" stroke="#000" stroke-width="1.1"/>
<line x1="861.26" y1="1216.32" x2="851.96" y2="1216.32" stroke="#000" stroke-width="1.1"/>
<text transform="translate(1197.22,1562.9) scale(1.0200,1)" font-size="14.5" font-family='"Liberation Sans", sans-serif'>0.6</text>
<text transform="translate(840.5,1226.6) rotate(-90) scale(1.0200,1)" font-size="14.5" font-family='"Liberation Sans", sans-serif'>0.6</text>
<line x1="1315.7" y1="1531.39" x2="1315.7" y2="1540.39" stroke="#000" stroke-width="1.1"/>
<line x1="861.26" y1="1117.86" x2="851.96" y2="1117.86" stroke="#000" stroke-width="1.1"/>
<text transform="translate(1305.42,1562.9) scale(1.0200,1)" font-size="14.5" font-family='"Liberation Sans", sans-serif'>0.8</text>
<text transform="translate(840.5,1128.14) rotate(-90) scale(1.0200,1)" font-size="14.5" font-family='"Liberation Sans", sans-serif'>0.8</text>
<line x1="1423.9" y1="1531.39" x2="1423.9" y2="1540.39" stroke="#000" stroke-width="1.1"/>
<line x1="861.26" y1="1019.4" x2="851.96" y2="1019.4" stroke="#000" stroke-width="1.1"/>
<text transform="translate(1413.62,1562.9) scale(1.0200,1)" font-size="14.5" font-family='"Liberation Sans", sans-serif'>1.0</text>
<text transform="translate(840.5,1029.68) rotate(-90) scale(1.0200,1)" font-size="14.5" font-family='"Liberation Sans", sans-serif'>1.0</text>
<text transform="translate(1044.22,1597) scale(0.9926,1)" font-size="17" font-family='"Liberation Sans", sans-serif'>Nomogram−prediced OS (%)</text>
<text transform="translate(806.4,1331.9) rotate(-90) scale(0.9910,1)" font-size="17" font-family='"Liberation Sans", sans-serif'>Observed OS (%)</text>
<line x1="876" y1="1020.5" x2="908.8" y2="1020.5" stroke="#2166AC" stroke-width="2"/>
<line x1="876" y1="1041" x2="908.8" y2="1041" stroke="#B2182B" stroke-width="2"/>
<text transform="translate(923.02,1026.6) scale(1.0000,1)" font-size="17" font-family='"Liberation Sans", sans-serif' fill="#000">5−year</text>
<text transform="translate(923.05,1046.6) scale(1.0000,1)" font-size="17" font-family='"Liberation Sans", sans-serif' fill="#000">3−year</text>
<line x1="1032.56" y1="1380.62" x2="1222.36" y2="1224.62" stroke="#2166AC" stroke-width="1.6"/>
<line x1="1233.61" y1="1212.13" x2="1318.91" y2="1083.11" stroke="#2166AC" stroke-width="1.6"/>
<path d="M1022.19 1380.89L1029.79 1388.49M1022.19 1388.49L1029.79 1380.89" stroke="#0000FF" stroke-width="1.15" fill="none"/>
<path d="M1225.12 1219.22L1232.72 1226.82M1225.12 1226.82L1232.72 1219.22" stroke="#0000FF" stroke-width="1.15" fill="none"/>
<path d="M1319.8 1072.21L1327.4 1079.81M1319.8 1079.81L1327.4 1072.21" stroke="#0000FF" stroke-width="1.15" fill="none"/>
<circle cx="1025.99" cy="1386.02" r="3.6" fill="#2166AC"/>
<circle cx="1228.92" cy="1219.22" r="3.6" fill="#2166AC"/>
<circle cx="1323.6" cy="1076.01" r="3.6" fill="#2166AC"/>
<line x1="1068.65" y1="1340.86" x2="1255.63" y2="1180.84" stroke="#B2182B" stroke-width="1.6"/>
<line x1="1267.44" y1="1168.71" x2="1337.13" y2="1082.62" stroke="#B2182B" stroke-width="1.6"/>
<path d="M1058.39 1340.12L1065.99 1347.72M1058.39 1347.72L1065.99 1340.12" stroke="#0000FF" stroke-width="1.15" fill="none"/>
<path d="M1258.29 1176.58L1265.89 1184.18M1258.29 1184.18L1265.89 1176.58" stroke="#0000FF" stroke-width="1.15" fill="none"/>
<path d="M1338.68 1072.21L1346.28 1079.81M1338.68 1079.81L1346.28 1072.21" stroke="#0000FF" stroke-width="1.15" fill="none"/>
<circle cx="1062.19" cy="1346.39" r="3.6" fill="#B2182B"/>
<circle cx="1262.09" cy="1175.31" r="3.6" fill="#B2182B"/>
<circle cx="1342.48" cy="1076.01" r="3.6" fill="#B2182B"/>
<line x1="861.26" y1="1531.39" x2="1445.54" y2="999.71" stroke="#264646" stroke-width="2.1" stroke-dasharray="0 7.19" stroke-dashoffset="-0.17" stroke-linecap="round"/>
</svg>
</body></html>
